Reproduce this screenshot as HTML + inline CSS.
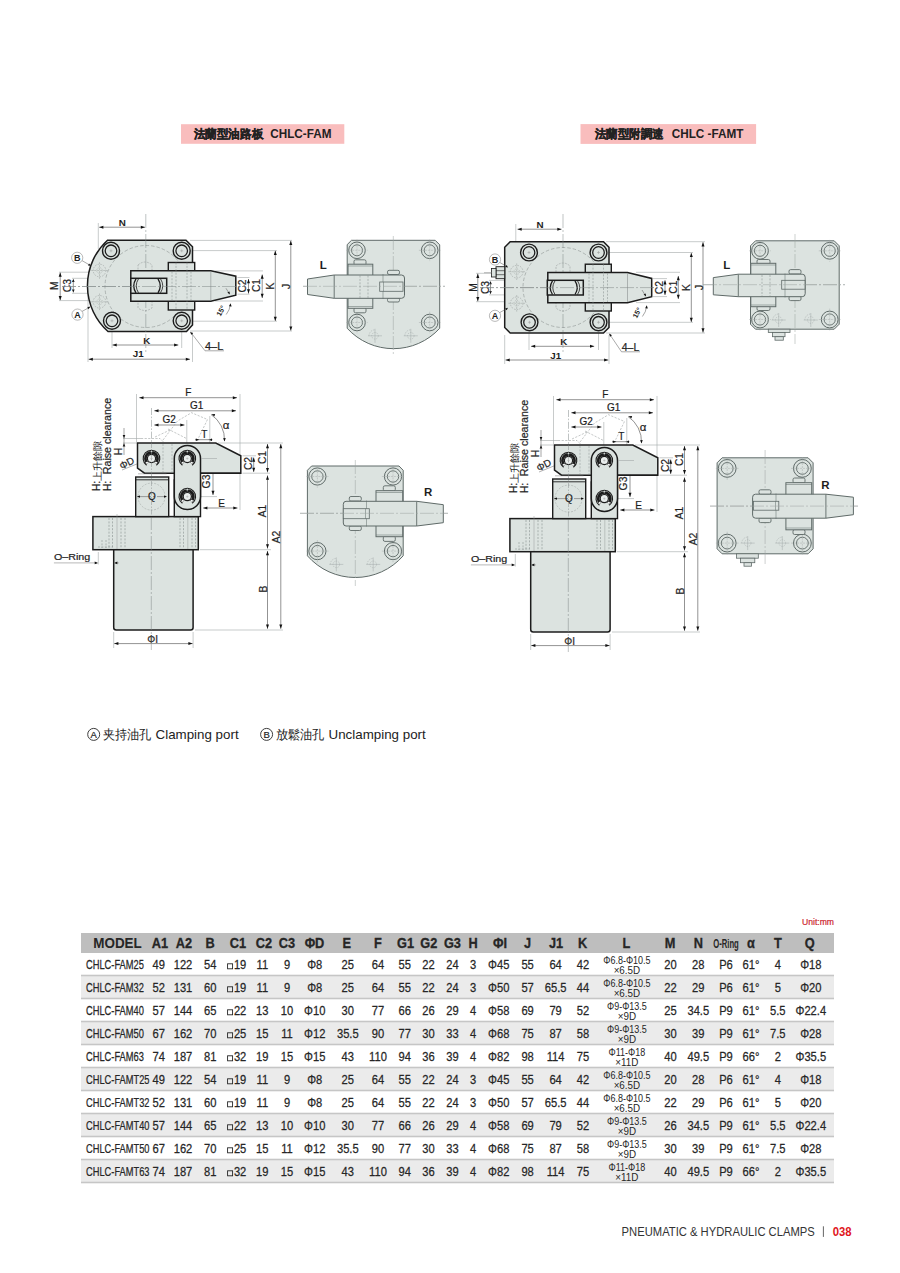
<!DOCTYPE html>
<html><head><meta charset="utf-8"><title>CHLC-FAM / CHLC-FAMT</title>
<style>
html,body{margin:0;padding:0;background:#fff;}
body{width:900px;height:1273px;overflow:hidden;position:relative;font-family:"Liberation Sans",sans-serif;}
svg{position:absolute;left:0;top:0;}
svg text{font-family:"Liberation Sans",sans-serif;}
</style></head><body>
<svg width="900" height="1273" viewBox="0 0 900 1273">
<line x1="98.30" y1="223.00" x2="98.30" y2="249.00" stroke="#a3a8a7" stroke-width="0.6"/><line x1="99.20" y1="227.20" x2="145.00" y2="227.20" stroke="#4a4a4a" stroke-width="0.6"/><polygon points="99.20,227.20 103.40,225.70 103.40,228.70" fill="#111"/><polygon points="145.00,227.20 140.80,228.70 140.80,225.70" fill="#111"/><text transform="translate(122.20,222.00)" x="0" y="3.51" text-anchor="middle" font-size="9.8" font-weight="bold" fill="#1e1e1e">N</text><line x1="190.00" y1="240.40" x2="292.00" y2="240.40" stroke="#a3a8a7" stroke-width="0.6"/><line x1="190.00" y1="250.60" x2="277.00" y2="250.60" stroke="#a3a8a7" stroke-width="0.6"/><line x1="215.00" y1="270.90" x2="263.00" y2="270.90" stroke="#a3a8a7" stroke-width="0.6"/><line x1="215.00" y1="301.00" x2="263.00" y2="301.00" stroke="#a3a8a7" stroke-width="0.6"/><line x1="237.50" y1="277.50" x2="249.50" y2="277.50" stroke="#a3a8a7" stroke-width="0.6"/><line x1="237.50" y1="294.20" x2="249.50" y2="294.20" stroke="#a3a8a7" stroke-width="0.6"/><line x1="190.00" y1="321.20" x2="277.00" y2="321.20" stroke="#a3a8a7" stroke-width="0.6"/><line x1="190.00" y1="331.00" x2="292.00" y2="331.00" stroke="#a3a8a7" stroke-width="0.6"/><line x1="290.80" y1="240.80" x2="290.80" y2="330.60" stroke="#4a4a4a" stroke-width="0.6"/><polygon points="290.80,240.80 292.30,245.00 289.30,245.00" fill="#111"/><polygon points="290.80,330.60 289.30,326.40 292.30,326.40" fill="#111"/><line x1="275.30" y1="250.80" x2="275.30" y2="321.00" stroke="#4a4a4a" stroke-width="0.6"/><polygon points="275.30,250.80 276.80,255.00 273.80,255.00" fill="#111"/><polygon points="275.30,321.00 273.80,316.80 276.80,316.80" fill="#111"/><line x1="262.20" y1="274.60" x2="262.20" y2="298.00" stroke="#4a4a4a" stroke-width="0.6"/><polygon points="262.20,274.60 263.70,278.80 260.70,278.80" fill="#111"/><polygon points="262.20,298.00 260.70,293.80 263.70,293.80" fill="#111"/><line x1="248.50" y1="279.10" x2="248.50" y2="293.50" stroke="#4a4a4a" stroke-width="0.6"/><polygon points="248.50,279.10 250.00,283.30 247.00,283.30" fill="#111"/><polygon points="248.50,293.50 247.00,289.30 250.00,289.30" fill="#111"/><text transform="translate(242.40,286.00) rotate(-90)" x="0" y="3.69" text-anchor="middle" font-size="10.3" stroke="#1e1e1e" stroke-width="0.2" fill="#1e1e1e">C2</text><text transform="translate(256.60,285.50) rotate(-90)" x="0" y="3.69" text-anchor="middle" font-size="10.3" stroke="#1e1e1e" stroke-width="0.2" fill="#1e1e1e">C1</text><text transform="translate(270.20,286.00) rotate(-90)" x="0" y="3.69" text-anchor="middle" font-size="10.3" stroke="#1e1e1e" stroke-width="0.2" fill="#1e1e1e">K</text><text transform="translate(286.50,286.50) rotate(-90)" x="0" y="3.69" text-anchor="middle" font-size="10.3" stroke="#1e1e1e" stroke-width="0.2" fill="#1e1e1e">J</text><line x1="59.00" y1="272.20" x2="100.00" y2="272.20" stroke="#a3a8a7" stroke-width="0.6"/><line x1="59.00" y1="300.60" x2="100.00" y2="300.60" stroke="#a3a8a7" stroke-width="0.6"/><line x1="72.00" y1="278.30" x2="100.00" y2="278.30" stroke="#a3a8a7" stroke-width="0.6"/><line x1="72.00" y1="293.30" x2="100.00" y2="293.30" stroke="#a3a8a7" stroke-width="0.6"/><line x1="60.20" y1="272.60" x2="60.20" y2="300.20" stroke="#4a4a4a" stroke-width="0.6"/><polygon points="60.20,272.60 61.70,276.80 58.70,276.80" fill="#111"/><polygon points="60.20,300.20 58.70,296.00 61.70,296.00" fill="#111"/><polygon points="73.30,278.80 74.60,282.00 72.00,282.00" fill="#111"/><polygon points="73.30,292.80 72.00,289.60 74.60,289.60" fill="#111"/><line x1="73.30" y1="281.00" x2="73.30" y2="290.50" stroke="#4a4a4a" stroke-width="0.6"/><text transform="translate(53.90,285.60) rotate(-90)" x="0" y="3.69" text-anchor="middle" font-size="10.3" stroke="#1e1e1e" stroke-width="0.2" fill="#1e1e1e">M</text><text transform="translate(67.20,285.60) rotate(-90)" x="0" y="3.69" text-anchor="middle" font-size="10.3" stroke="#1e1e1e" stroke-width="0.2" fill="#1e1e1e">C3</text><line x1="112.00" y1="322.00" x2="112.00" y2="348.00" stroke="#a3a8a7" stroke-width="0.6"/><line x1="181.70" y1="322.00" x2="181.70" y2="348.00" stroke="#a3a8a7" stroke-width="0.6"/><line x1="88.00" y1="290.00" x2="88.00" y2="362.00" stroke="#a3a8a7" stroke-width="0.6"/><line x1="192.50" y1="332.00" x2="192.50" y2="362.00" stroke="#a3a8a7" stroke-width="0.6"/><line x1="112.50" y1="345.00" x2="178.30" y2="345.00" stroke="#4a4a4a" stroke-width="0.6"/><polygon points="112.50,345.00 116.70,343.50 116.70,346.50" fill="#111"/><polygon points="178.30,345.00 174.10,346.50 174.10,343.50" fill="#111"/><text transform="translate(146.70,340.30)" x="0" y="3.51" text-anchor="middle" font-size="9.8" font-weight="bold" fill="#1e1e1e">K</text><line x1="88.60" y1="359.20" x2="190.00" y2="359.20" stroke="#4a4a4a" stroke-width="0.6"/><polygon points="88.60,359.20 92.80,357.70 92.80,360.70" fill="#111"/><polygon points="190.00,359.20 185.80,360.70 185.80,357.70" fill="#111"/><text transform="translate(138.30,353.80)" x="0" y="3.51" text-anchor="middle" font-size="9.8" font-weight="bold" fill="#1e1e1e">J1</text><path d="M107.5,240.2 L186,240.2 L192.5,246.7 L192.5,325 L186.5,331.5 L108,331.5 A61.5,61.5 0 0 1 107.5,240.2 Z" stroke="#1c1c1c" stroke-width="1.5" fill="#dce3e0"/><circle cx="146.00" cy="286.50" r="41.00" stroke="#8f9594" stroke-width="0.6" fill="none" stroke-dasharray="3.5 2"/><circle cx="99.50" cy="270.50" r="6.30" stroke="#9aa09f" stroke-width="0.6" fill="none" stroke-dasharray="1.5 1.2"/><line x1="91.20" y1="270.50" x2="107.80" y2="270.50" stroke="#9aa09f" stroke-width="0.5" stroke-dasharray="2 1"/><line x1="99.50" y1="262.20" x2="99.50" y2="278.80" stroke="#9aa09f" stroke-width="0.5" stroke-dasharray="2 1"/><circle cx="99.50" cy="270.50" r="2.83" stroke="#9aa09f" stroke-width="0.5" fill="none" stroke-dasharray="1.2 1"/><circle cx="99.50" cy="301.80" r="6.30" stroke="#9aa09f" stroke-width="0.6" fill="none" stroke-dasharray="1.5 1.2"/><line x1="91.20" y1="301.80" x2="107.80" y2="301.80" stroke="#9aa09f" stroke-width="0.5" stroke-dasharray="2 1"/><line x1="99.50" y1="293.50" x2="99.50" y2="310.10" stroke="#9aa09f" stroke-width="0.5" stroke-dasharray="2 1"/><circle cx="99.50" cy="301.80" r="2.83" stroke="#9aa09f" stroke-width="0.5" fill="none" stroke-dasharray="1.2 1"/><circle cx="111.00" cy="250.80" r="8.50" stroke="#1c1c1c" stroke-width="1.4" fill="#dce3e0"/><circle cx="111.00" cy="250.80" r="5.80" stroke="#1c1c1c" stroke-width="1.26" fill="#dce3e0"/><line x1="109.50" y1="250.80" x2="112.50" y2="250.80" stroke="#999" stroke-width="0.5"/><line x1="111.00" y1="249.30" x2="111.00" y2="252.30" stroke="#999" stroke-width="0.5"/><circle cx="181.70" cy="250.80" r="8.50" stroke="#1c1c1c" stroke-width="1.4" fill="#dce3e0"/><circle cx="181.70" cy="250.80" r="5.80" stroke="#1c1c1c" stroke-width="1.26" fill="#dce3e0"/><line x1="180.20" y1="250.80" x2="183.20" y2="250.80" stroke="#999" stroke-width="0.5"/><line x1="181.70" y1="249.30" x2="181.70" y2="252.30" stroke="#999" stroke-width="0.5"/><circle cx="112.00" cy="320.80" r="8.50" stroke="#1c1c1c" stroke-width="1.4" fill="#dce3e0"/><circle cx="112.00" cy="320.80" r="5.80" stroke="#1c1c1c" stroke-width="1.26" fill="#dce3e0"/><line x1="110.50" y1="320.80" x2="113.50" y2="320.80" stroke="#999" stroke-width="0.5"/><line x1="112.00" y1="319.30" x2="112.00" y2="322.30" stroke="#999" stroke-width="0.5"/><circle cx="181.70" cy="320.80" r="8.50" stroke="#1c1c1c" stroke-width="1.4" fill="#dce3e0"/><circle cx="181.70" cy="320.80" r="5.80" stroke="#1c1c1c" stroke-width="1.26" fill="#dce3e0"/><line x1="180.20" y1="320.80" x2="183.20" y2="320.80" stroke="#999" stroke-width="0.5"/><line x1="181.70" y1="319.30" x2="181.70" y2="322.30" stroke="#999" stroke-width="0.5"/><line x1="145.80" y1="214.00" x2="145.80" y2="352.00" stroke="#7f8786" stroke-width="0.5" stroke-dasharray="14 2 2 2"/><line x1="62.00" y1="286.50" x2="246.00" y2="286.50" stroke="#7f8786" stroke-width="0.5" stroke-dasharray="14 2 2 2"/><path d="M138,265 Q145,259 152,265 L152,308 Q145,313 138,308 Z" stroke="#9aa09f" stroke-width="0.6" fill="none" stroke-dasharray="2 1.2"/><rect x="168.30" y="262.50" width="26.40" height="47.50" stroke="#1c1c1c" stroke-width="1.4" fill="#dce3e0"/><path d="M130.8,270.7 L210.8,270.7 L235.8,276.2 L235.8,295.2 L210.8,301.2 L130.8,301.2 Z" stroke="#1c1c1c" stroke-width="1.5" fill="#dce3e0"/><line x1="210.80" y1="271.50" x2="210.80" y2="300.50" stroke="#8a8f8e" stroke-width="0.6"/><line x1="172.00" y1="271.50" x2="172.00" y2="300.50" stroke="#7f8786" stroke-width="0.5" stroke-dasharray="2 1.4"/><line x1="191.00" y1="271.50" x2="191.00" y2="300.50" stroke="#7f8786" stroke-width="0.5" stroke-dasharray="2 1.4"/><line x1="176.00" y1="262.50" x2="176.00" y2="310.00" stroke="#7f8786" stroke-width="0.5" stroke-dasharray="2 1.4"/><line x1="187.00" y1="262.50" x2="187.00" y2="310.00" stroke="#7f8786" stroke-width="0.5" stroke-dasharray="2 1.4"/><rect x="130.80" y="278.30" width="35.90" height="15.00" stroke="#1c1c1c" stroke-width="1.5" fill="#dce3e0"/><path d="M136,278.8 Q131.5,285.8 136,292.8" stroke="#1c1c1c" stroke-width="1.3" fill="none"/><path d="M138.5,278.8 Q134,285.8 138.5,292.8" stroke="#1c1c1c" stroke-width="0.8" fill="none"/><path d="M158,278.8 Q162.5,285.8 158,292.8" stroke="#1c1c1c" stroke-width="1.3" fill="none"/><path d="M160.5,278.8 Q165,285.8 160.5,292.8" stroke="#1c1c1c" stroke-width="0.8" fill="none"/><line x1="62.00" y1="286.50" x2="246.00" y2="286.50" stroke="#7f8786" stroke-width="0.5" stroke-dasharray="14 2 2 2"/><line x1="81.00" y1="260.00" x2="90.60" y2="265.60" stroke="#555" stroke-width="0.5"/><polygon points="90.80,265.80 87.94,265.60 89.10,263.50" fill="#111"/><line x1="81.00" y1="312.00" x2="90.00" y2="307.00" stroke="#555" stroke-width="0.5"/><polygon points="90.20,306.80 88.59,309.17 87.35,307.11" fill="#111"/><circle cx="77.20" cy="257.80" r="5.60" stroke="#8a8a8a" stroke-width="0.6" fill="#fff"/><text transform="translate(77.20,257.80)" x="0" y="3.22" text-anchor="middle" font-size="9" font-weight="bold" fill="#222">B</text><circle cx="77.50" cy="314.60" r="5.60" stroke="#8a8a8a" stroke-width="0.6" fill="#fff"/><text transform="translate(77.50,314.60)" x="0" y="3.22" text-anchor="middle" font-size="9" font-weight="bold" fill="#222">A</text><line x1="226.00" y1="288.30" x2="229.40" y2="293.80" stroke="#555" stroke-width="0.5"/><polygon points="229.80,294.50 227.40,292.62 229.50,291.47" fill="#111"/><path d="M230.4,304.5 Q229.8,310 226.2,314.5" stroke="#4a4a4a" stroke-width="0.5" fill="none"/><polygon points="230.50,303.20 231.64,306.46 229.04,306.33" fill="#111"/><text transform="translate(220.80,310.80) rotate(-62)" x="0" y="2.58" text-anchor="middle" font-size="7.2" font-weight="bold" fill="#1e1e1e">15°</text><line x1="190.50" y1="332.00" x2="205.00" y2="350.80" stroke="#555" stroke-width="0.5"/><line x1="205.00" y1="350.80" x2="224.00" y2="350.80" stroke="#555" stroke-width="0.5"/><polygon points="190.30,331.70 193.06,333.38 191.14,334.82" fill="#111"/><text transform="translate(205.00,349.80) scale(1.045,1)" text-anchor="start" font-size="10.5" fill="#1e1e1e" stroke="#1e1e1e" stroke-width="0.2">4–L</text><path d="M351.5,240.3 L435.2,240.3 L439.7,244.8 L439.7,328.3 A62.7,62.7 0 0 1 347.2,328.3 L347.2,244.6 Z" stroke="#5f6a68" stroke-width="1.0" fill="#dce3e0"/><circle cx="357.00" cy="250.30" r="8.30" stroke="#5f6a68" stroke-width="1.0" fill="#dce3e0"/><circle cx="357.00" cy="250.30" r="5.50" stroke="#5f6a68" stroke-width="0.9" fill="#dce3e0"/><line x1="346.20" y1="250.30" x2="367.80" y2="250.30" stroke="#a0a6a5" stroke-width="0.45" stroke-dasharray="2 1"/><line x1="357.00" y1="239.50" x2="357.00" y2="261.10" stroke="#a0a6a5" stroke-width="0.45" stroke-dasharray="2 1"/><circle cx="429.70" cy="250.30" r="8.30" stroke="#5f6a68" stroke-width="1.0" fill="#dce3e0"/><circle cx="429.70" cy="250.30" r="5.50" stroke="#5f6a68" stroke-width="0.9" fill="#dce3e0"/><line x1="418.90" y1="250.30" x2="440.50" y2="250.30" stroke="#a0a6a5" stroke-width="0.45" stroke-dasharray="2 1"/><line x1="429.70" y1="239.50" x2="429.70" y2="261.10" stroke="#a0a6a5" stroke-width="0.45" stroke-dasharray="2 1"/><circle cx="357.00" cy="322.50" r="8.30" stroke="#5f6a68" stroke-width="1.0" fill="#dce3e0"/><circle cx="357.00" cy="322.50" r="5.50" stroke="#5f6a68" stroke-width="0.9" fill="#dce3e0"/><line x1="346.20" y1="322.50" x2="367.80" y2="322.50" stroke="#a0a6a5" stroke-width="0.45" stroke-dasharray="2 1"/><line x1="357.00" y1="311.70" x2="357.00" y2="333.30" stroke="#a0a6a5" stroke-width="0.45" stroke-dasharray="2 1"/><circle cx="429.70" cy="322.50" r="8.30" stroke="#5f6a68" stroke-width="1.0" fill="#dce3e0"/><circle cx="429.70" cy="322.50" r="5.50" stroke="#5f6a68" stroke-width="0.9" fill="#dce3e0"/><line x1="418.90" y1="322.50" x2="440.50" y2="322.50" stroke="#a0a6a5" stroke-width="0.45" stroke-dasharray="2 1"/><line x1="429.70" y1="311.70" x2="429.70" y2="333.30" stroke="#a0a6a5" stroke-width="0.45" stroke-dasharray="2 1"/><circle cx="375.00" cy="335.80" r="3.30" stroke="#a3a9a8" stroke-width="0.5" fill="none" stroke-dasharray="1.4 1"/><path d="M369,335.8 A6,6 0 0 1 375,329.8" stroke="#a3a9a8" stroke-width="0.5" fill="none" stroke-dasharray="1.4 1"/><line x1="368.00" y1="335.80" x2="382.00" y2="335.80" stroke="#a3a9a8" stroke-width="0.5"/><line x1="375.00" y1="328.80" x2="375.00" y2="342.80" stroke="#a3a9a8" stroke-width="0.5"/><circle cx="410.80" cy="335.80" r="3.30" stroke="#a3a9a8" stroke-width="0.5" fill="none" stroke-dasharray="1.4 1"/><path d="M404.8,335.8 A6,6 0 0 1 410.8,329.8" stroke="#a3a9a8" stroke-width="0.5" fill="none" stroke-dasharray="1.4 1"/><line x1="403.80" y1="335.80" x2="417.80" y2="335.80" stroke="#a3a9a8" stroke-width="0.5"/><line x1="410.80" y1="328.80" x2="410.80" y2="342.80" stroke="#a3a9a8" stroke-width="0.5"/><line x1="393.30" y1="236.00" x2="393.30" y2="355.00" stroke="#9aa09f" stroke-width="0.5" stroke-dasharray="14 2 2 2"/><line x1="303.00" y1="286.30" x2="445.00" y2="286.30" stroke="#9aa09f" stroke-width="0.5" stroke-dasharray="14 2 2 2"/><rect x="354.00" y="259.80" width="12.00" height="5.20" stroke="#5f6a68" stroke-width="0.9" fill="#dce3e0" rx="1.6"/><rect x="354.00" y="307.50" width="12.00" height="5.30" stroke="#5f6a68" stroke-width="0.9" fill="#dce3e0" rx="1.6"/><rect x="348.00" y="264.20" width="24.80" height="44.10" stroke="#5f6a68" stroke-width="1.0" fill="#dce3e0"/><line x1="348.00" y1="266.00" x2="372.80" y2="266.00" stroke="#5f6a68" stroke-width="0.5"/><line x1="348.00" y1="306.50" x2="372.80" y2="306.50" stroke="#5f6a68" stroke-width="0.5"/><rect x="387.50" y="270.30" width="12.00" height="4.20" stroke="#5f6a68" stroke-width="0.9" fill="#dce3e0" rx="1.6"/><rect x="387.50" y="297.80" width="12.00" height="4.20" stroke="#5f6a68" stroke-width="0.9" fill="#dce3e0" rx="1.6"/><path d="M307.5,279 L334.2,275 L401.5,275 Q404.5,275 404.5,278 L404.5,295.3 Q404.5,298.3 401.5,298.3 L334.2,298.3 L307.5,294.5 Z" stroke="#5f6a68" stroke-width="1.0" fill="#dce3e0"/><line x1="334.20" y1="275.00" x2="334.20" y2="298.30" stroke="#5f6a68" stroke-width="0.9"/><line x1="383.00" y1="274.00" x2="383.00" y2="299.00" stroke="#5f6a68" stroke-width="0.5"/><line x1="360.00" y1="275.50" x2="360.00" y2="298.00" stroke="#7f8786" stroke-width="0.5" stroke-dasharray="2 1.4"/><line x1="368.00" y1="275.50" x2="368.00" y2="298.00" stroke="#7f8786" stroke-width="0.5" stroke-dasharray="2 1.4"/><rect x="379.70" y="282.00" width="23.30" height="9.30" stroke="#5f6a68" stroke-width="0.8" fill="#dce3e0"/><line x1="383.50" y1="282.00" x2="383.50" y2="291.30" stroke="#5f6a68" stroke-width="0.5"/><line x1="303.00" y1="286.30" x2="445.00" y2="286.30" stroke="#9aa09f" stroke-width="0.5" stroke-dasharray="14 2 2 2"/><text transform="translate(323.30,265.00)" x="0" y="4.12" text-anchor="middle" font-size="11.5" font-weight="bold" fill="#1e1e1e">L</text><line x1="515.80" y1="224.00" x2="515.80" y2="250.00" stroke="#a3a8a7" stroke-width="0.6"/><line x1="517.50" y1="229.20" x2="561.50" y2="229.20" stroke="#4a4a4a" stroke-width="0.6"/><polygon points="517.50,229.20 521.70,227.70 521.70,230.70" fill="#111"/><polygon points="561.50,229.20 557.30,230.70 557.30,227.70" fill="#111"/><text transform="translate(540.00,224.60)" x="0" y="3.51" text-anchor="middle" font-size="9.8" font-weight="bold" fill="#1e1e1e">N</text><line x1="606.00" y1="241.70" x2="705.00" y2="241.70" stroke="#a3a8a7" stroke-width="0.6"/><line x1="606.00" y1="252.50" x2="693.00" y2="252.50" stroke="#a3a8a7" stroke-width="0.6"/><line x1="636.00" y1="272.30" x2="680.00" y2="272.30" stroke="#a3a8a7" stroke-width="0.6"/><line x1="636.00" y1="302.60" x2="680.00" y2="302.60" stroke="#a3a8a7" stroke-width="0.6"/><line x1="653.00" y1="278.60" x2="667.00" y2="278.60" stroke="#a3a8a7" stroke-width="0.6"/><line x1="653.00" y1="296.60" x2="667.00" y2="296.60" stroke="#a3a8a7" stroke-width="0.6"/><line x1="606.00" y1="322.30" x2="693.00" y2="322.30" stroke="#a3a8a7" stroke-width="0.6"/><line x1="606.00" y1="333.00" x2="705.00" y2="333.00" stroke="#a3a8a7" stroke-width="0.6"/><line x1="703.00" y1="242.20" x2="703.00" y2="332.50" stroke="#4a4a4a" stroke-width="0.6"/><polygon points="703.00,242.20 704.50,246.40 701.50,246.40" fill="#111"/><polygon points="703.00,332.50 701.50,328.30 704.50,328.30" fill="#111"/><line x1="691.30" y1="252.90" x2="691.30" y2="322.00" stroke="#4a4a4a" stroke-width="0.6"/><polygon points="691.30,252.90 692.80,257.10 689.80,257.10" fill="#111"/><polygon points="691.30,322.00 689.80,317.80 692.80,317.80" fill="#111"/><line x1="678.30" y1="276.00" x2="678.30" y2="299.00" stroke="#4a4a4a" stroke-width="0.6"/><polygon points="678.30,276.00 679.80,280.20 676.80,280.20" fill="#111"/><polygon points="678.30,299.00 676.80,294.80 679.80,294.80" fill="#111"/><line x1="665.00" y1="280.30" x2="665.00" y2="295.00" stroke="#4a4a4a" stroke-width="0.6"/><polygon points="665.00,280.30 666.50,284.50 663.50,284.50" fill="#111"/><polygon points="665.00,295.00 663.50,290.80 666.50,290.80" fill="#111"/><text transform="translate(659.00,287.60) rotate(-90)" x="0" y="3.69" text-anchor="middle" font-size="10.3" stroke="#1e1e1e" stroke-width="0.2" fill="#1e1e1e">C2</text><text transform="translate(673.30,287.20) rotate(-90)" x="0" y="3.69" text-anchor="middle" font-size="10.3" stroke="#1e1e1e" stroke-width="0.2" fill="#1e1e1e">C1</text><text transform="translate(686.70,287.50) rotate(-90)" x="0" y="3.69" text-anchor="middle" font-size="10.3" stroke="#1e1e1e" stroke-width="0.2" fill="#1e1e1e">K</text><text transform="translate(699.00,287.50) rotate(-90)" x="0" y="3.69" text-anchor="middle" font-size="10.3" stroke="#1e1e1e" stroke-width="0.2" fill="#1e1e1e">J</text><line x1="476.00" y1="273.30" x2="505.00" y2="273.30" stroke="#a3a8a7" stroke-width="0.6"/><line x1="476.00" y1="301.70" x2="505.00" y2="301.70" stroke="#a3a8a7" stroke-width="0.6"/><line x1="489.00" y1="280.40" x2="505.00" y2="280.40" stroke="#a3a8a7" stroke-width="0.6"/><line x1="489.00" y1="294.90" x2="505.00" y2="294.90" stroke="#a3a8a7" stroke-width="0.6"/><line x1="477.80" y1="273.70" x2="477.80" y2="301.30" stroke="#4a4a4a" stroke-width="0.6"/><polygon points="477.80,273.70 479.30,277.90 476.30,277.90" fill="#111"/><polygon points="477.80,301.30 476.30,297.10 479.30,297.10" fill="#111"/><polygon points="490.50,281.00 491.80,284.20 489.20,284.20" fill="#111"/><polygon points="490.50,294.30 489.20,291.10 491.80,291.10" fill="#111"/><line x1="490.50" y1="283.00" x2="490.50" y2="292.30" stroke="#4a4a4a" stroke-width="0.6"/><text transform="translate(473.30,287.50) rotate(-90)" x="0" y="3.69" text-anchor="middle" font-size="10.3" stroke="#1e1e1e" stroke-width="0.2" fill="#1e1e1e">M</text><text transform="translate(485.40,287.50) rotate(-90)" x="0" y="3.69" text-anchor="middle" font-size="10.3" stroke="#1e1e1e" stroke-width="0.2" fill="#1e1e1e">C3</text><line x1="529.00" y1="324.00" x2="529.00" y2="350.00" stroke="#a3a8a7" stroke-width="0.6"/><line x1="598.50" y1="324.00" x2="598.50" y2="350.00" stroke="#a3a8a7" stroke-width="0.6"/><line x1="504.70" y1="335.00" x2="504.70" y2="364.00" stroke="#a3a8a7" stroke-width="0.6"/><line x1="609.00" y1="335.00" x2="609.00" y2="364.00" stroke="#a3a8a7" stroke-width="0.6"/><line x1="531.00" y1="346.30" x2="594.20" y2="346.30" stroke="#4a4a4a" stroke-width="0.6"/><polygon points="531.00,346.30 535.20,344.80 535.20,347.80" fill="#111"/><polygon points="594.20,346.30 590.00,347.80 590.00,344.80" fill="#111"/><text transform="translate(563.70,341.60)" x="0" y="3.51" text-anchor="middle" font-size="9.8" font-weight="bold" fill="#1e1e1e">K</text><line x1="505.50" y1="360.00" x2="608.30" y2="360.00" stroke="#4a4a4a" stroke-width="0.6"/><polygon points="505.50,360.00 509.70,358.50 509.70,361.50" fill="#111"/><polygon points="608.30,360.00 604.10,361.50 604.10,358.50" fill="#111"/><text transform="translate(555.80,355.00)" x="0" y="3.51" text-anchor="middle" font-size="9.8" font-weight="bold" fill="#1e1e1e">J1</text><path d="M510.2,241.7 L603.5,241.7 L609,247.2 L609,327.5 L603.5,333 L510.2,333 L504.7,327.5 L504.7,247.2 Z" stroke="#1c1c1c" stroke-width="1.5" fill="#dce3e0"/><circle cx="563.00" cy="287.50" r="40.00" stroke="#8f9594" stroke-width="0.6" fill="none" stroke-dasharray="3.5 2"/><circle cx="516.70" cy="271.70" r="6.30" stroke="#9aa09f" stroke-width="0.6" fill="none" stroke-dasharray="1.5 1.2"/><line x1="508.40" y1="271.70" x2="525.00" y2="271.70" stroke="#9aa09f" stroke-width="0.5" stroke-dasharray="2 1"/><line x1="516.70" y1="263.40" x2="516.70" y2="280.00" stroke="#9aa09f" stroke-width="0.5" stroke-dasharray="2 1"/><circle cx="516.70" cy="271.70" r="2.83" stroke="#9aa09f" stroke-width="0.5" fill="none" stroke-dasharray="1.2 1"/><circle cx="516.70" cy="303.30" r="6.30" stroke="#9aa09f" stroke-width="0.6" fill="none" stroke-dasharray="1.5 1.2"/><line x1="508.40" y1="303.30" x2="525.00" y2="303.30" stroke="#9aa09f" stroke-width="0.5" stroke-dasharray="2 1"/><line x1="516.70" y1="295.00" x2="516.70" y2="311.60" stroke="#9aa09f" stroke-width="0.5" stroke-dasharray="2 1"/><circle cx="516.70" cy="303.30" r="2.83" stroke="#9aa09f" stroke-width="0.5" fill="none" stroke-dasharray="1.2 1"/><circle cx="529.00" cy="252.50" r="8.40" stroke="#1c1c1c" stroke-width="1.4" fill="#dce3e0"/><circle cx="529.00" cy="252.50" r="5.80" stroke="#1c1c1c" stroke-width="1.26" fill="#dce3e0"/><line x1="527.50" y1="252.50" x2="530.50" y2="252.50" stroke="#999" stroke-width="0.5"/><line x1="529.00" y1="251.00" x2="529.00" y2="254.00" stroke="#999" stroke-width="0.5"/><circle cx="598.50" cy="252.50" r="8.40" stroke="#1c1c1c" stroke-width="1.4" fill="#dce3e0"/><circle cx="598.50" cy="252.50" r="5.80" stroke="#1c1c1c" stroke-width="1.26" fill="#dce3e0"/><line x1="597.00" y1="252.50" x2="600.00" y2="252.50" stroke="#999" stroke-width="0.5"/><line x1="598.50" y1="251.00" x2="598.50" y2="254.00" stroke="#999" stroke-width="0.5"/><circle cx="529.50" cy="322.30" r="8.40" stroke="#1c1c1c" stroke-width="1.4" fill="#dce3e0"/><circle cx="529.50" cy="322.30" r="5.80" stroke="#1c1c1c" stroke-width="1.26" fill="#dce3e0"/><line x1="528.00" y1="322.30" x2="531.00" y2="322.30" stroke="#999" stroke-width="0.5"/><line x1="529.50" y1="320.80" x2="529.50" y2="323.80" stroke="#999" stroke-width="0.5"/><circle cx="598.50" cy="322.30" r="8.40" stroke="#1c1c1c" stroke-width="1.4" fill="#dce3e0"/><circle cx="598.50" cy="322.30" r="5.80" stroke="#1c1c1c" stroke-width="1.26" fill="#dce3e0"/><line x1="597.00" y1="322.30" x2="600.00" y2="322.30" stroke="#999" stroke-width="0.5"/><line x1="598.50" y1="320.80" x2="598.50" y2="323.80" stroke="#999" stroke-width="0.5"/><line x1="563.00" y1="214.00" x2="563.00" y2="352.00" stroke="#7f8786" stroke-width="0.5" stroke-dasharray="14 2 2 2"/><line x1="480.00" y1="287.60" x2="660.00" y2="287.60" stroke="#7f8786" stroke-width="0.5" stroke-dasharray="14 2 2 2"/><path d="M556,266 Q563,260 570,266 L570,308 Q563,314 556,308 Z" stroke="#9aa09f" stroke-width="0.6" fill="none" stroke-dasharray="2 1.2"/><rect x="585.30" y="264.20" width="26.00" height="46.80" stroke="#1c1c1c" stroke-width="1.4" fill="#dce3e0"/><path d="M547.8,272.5 L627.5,272.5 L651.7,278.4 L651.7,296.7 L627.5,302.7 L547.8,302.7 Z" stroke="#1c1c1c" stroke-width="1.5" fill="#dce3e0"/><line x1="627.50" y1="273.30" x2="627.50" y2="302.00" stroke="#8a8f8e" stroke-width="0.6"/><line x1="589.00" y1="273.30" x2="589.00" y2="302.00" stroke="#7f8786" stroke-width="0.5" stroke-dasharray="2 1.4"/><line x1="607.50" y1="273.30" x2="607.50" y2="302.00" stroke="#7f8786" stroke-width="0.5" stroke-dasharray="2 1.4"/><line x1="593.00" y1="264.20" x2="593.00" y2="311.00" stroke="#7f8786" stroke-width="0.5" stroke-dasharray="2 1.4"/><line x1="603.50" y1="264.20" x2="603.50" y2="311.00" stroke="#7f8786" stroke-width="0.5" stroke-dasharray="2 1.4"/><rect x="547.30" y="280.30" width="36.00" height="14.70" stroke="#1c1c1c" stroke-width="1.5" fill="#dce3e0"/><path d="M552.5,280.8 Q548,287.6 552.5,294.5" stroke="#1c1c1c" stroke-width="1.3" fill="none"/><path d="M555,280.8 Q550.5,287.6 555,294.5" stroke="#1c1c1c" stroke-width="0.8" fill="none"/><path d="M575,280.8 Q579.5,287.6 575,294.5" stroke="#1c1c1c" stroke-width="1.3" fill="none"/><path d="M577.5,280.8 Q582,287.6 577.5,294.5" stroke="#1c1c1c" stroke-width="0.8" fill="none"/><line x1="480.00" y1="287.60" x2="660.00" y2="287.60" stroke="#7f8786" stroke-width="0.5" stroke-dasharray="14 2 2 2"/><rect x="496.00" y="266.70" width="8.70" height="12.00" stroke="#1c1c1c" stroke-width="0.9" fill="#dce3e0"/><line x1="496.00" y1="270.70" x2="504.70" y2="270.70" stroke="#1c1c1c" stroke-width="0.6"/><line x1="496.00" y1="274.70" x2="504.70" y2="274.70" stroke="#1c1c1c" stroke-width="0.6"/><rect x="491.50" y="268.50" width="4.50" height="8.50" stroke="#1c1c1c" stroke-width="0.8" fill="#dce3e0"/><line x1="484.00" y1="272.70" x2="492.00" y2="272.70" stroke="#777" stroke-width="0.5"/><line x1="499.00" y1="262.00" x2="506.00" y2="266.00" stroke="#555" stroke-width="0.5"/><polygon points="508.00,267.50 505.20,266.90 506.64,264.98" fill="#111"/><line x1="499.00" y1="313.00" x2="506.00" y2="309.00" stroke="#555" stroke-width="0.5"/><polygon points="508.00,307.80 506.64,310.32 505.20,308.40" fill="#111"/><circle cx="495.00" cy="259.50" r="5.60" stroke="#8a8a8a" stroke-width="0.6" fill="#fff"/><text transform="translate(495.00,259.50)" x="0" y="3.22" text-anchor="middle" font-size="9" font-weight="bold" fill="#222">B</text><circle cx="495.00" cy="315.80" r="5.60" stroke="#8a8a8a" stroke-width="0.6" fill="#fff"/><text transform="translate(495.00,315.80)" x="0" y="3.22" text-anchor="middle" font-size="9" font-weight="bold" fill="#222">A</text><line x1="642.00" y1="290.00" x2="645.60" y2="295.80" stroke="#555" stroke-width="0.5"/><polygon points="646.00,296.50 643.60,294.62 645.70,293.47" fill="#111"/><path d="M646.6,306.5 Q646,312 642.4,316.5" stroke="#4a4a4a" stroke-width="0.5" fill="none"/><polygon points="646.70,305.20 647.84,308.46 645.24,308.33" fill="#111"/><text transform="translate(637.00,312.80) rotate(-62)" x="0" y="2.58" text-anchor="middle" font-size="7.2" font-weight="bold" fill="#1e1e1e">15°</text><line x1="609.50" y1="334.00" x2="621.50" y2="351.80" stroke="#555" stroke-width="0.5"/><line x1="621.50" y1="351.80" x2="640.00" y2="351.80" stroke="#555" stroke-width="0.5"/><polygon points="609.20,333.60 611.96,335.28 610.04,336.72" fill="#111"/><text transform="translate(621.70,350.80)" text-anchor="start" font-size="10.5" fill="#1e1e1e" stroke="#1e1e1e" stroke-width="0.2">4–L</text><path d="M311.6,466 L399,466 L403.2,470.3 L403.2,555.8 A63.7,63.7 0 0 1 307.4,555.8 L307.4,470.3 Z" stroke="#5f6a68" stroke-width="1.0" fill="#dce3e0"/><circle cx="317.40" cy="476.50" r="8.60" stroke="#5f6a68" stroke-width="1.0" fill="#dce3e0"/><circle cx="317.40" cy="476.50" r="5.70" stroke="#5f6a68" stroke-width="0.9" fill="#dce3e0"/><line x1="306.30" y1="476.50" x2="328.50" y2="476.50" stroke="#a0a6a5" stroke-width="0.45" stroke-dasharray="2 1"/><line x1="317.40" y1="465.40" x2="317.40" y2="487.60" stroke="#a0a6a5" stroke-width="0.45" stroke-dasharray="2 1"/><circle cx="393.00" cy="476.50" r="8.60" stroke="#5f6a68" stroke-width="1.0" fill="#dce3e0"/><circle cx="393.00" cy="476.50" r="5.70" stroke="#5f6a68" stroke-width="0.9" fill="#dce3e0"/><line x1="381.90" y1="476.50" x2="404.10" y2="476.50" stroke="#a0a6a5" stroke-width="0.45" stroke-dasharray="2 1"/><line x1="393.00" y1="465.40" x2="393.00" y2="487.60" stroke="#a0a6a5" stroke-width="0.45" stroke-dasharray="2 1"/><circle cx="317.40" cy="551.10" r="8.60" stroke="#5f6a68" stroke-width="1.0" fill="#dce3e0"/><circle cx="317.40" cy="551.10" r="5.70" stroke="#5f6a68" stroke-width="0.9" fill="#dce3e0"/><line x1="306.30" y1="551.10" x2="328.50" y2="551.10" stroke="#a0a6a5" stroke-width="0.45" stroke-dasharray="2 1"/><line x1="317.40" y1="540.00" x2="317.40" y2="562.20" stroke="#a0a6a5" stroke-width="0.45" stroke-dasharray="2 1"/><circle cx="393.00" cy="551.10" r="8.60" stroke="#5f6a68" stroke-width="1.0" fill="#dce3e0"/><circle cx="393.00" cy="551.10" r="5.70" stroke="#5f6a68" stroke-width="0.9" fill="#dce3e0"/><line x1="381.90" y1="551.10" x2="404.10" y2="551.10" stroke="#a0a6a5" stroke-width="0.45" stroke-dasharray="2 1"/><line x1="393.00" y1="540.00" x2="393.00" y2="562.20" stroke="#a0a6a5" stroke-width="0.45" stroke-dasharray="2 1"/><circle cx="336.30" cy="564.40" r="3.30" stroke="#a3a9a8" stroke-width="0.5" fill="none" stroke-dasharray="1.4 1"/><path d="M330.3,564.4 A6,6 0 0 1 336.3,558.4" stroke="#a3a9a8" stroke-width="0.5" fill="none" stroke-dasharray="1.4 1"/><line x1="329.30" y1="564.40" x2="343.30" y2="564.40" stroke="#a3a9a8" stroke-width="0.5"/><line x1="336.30" y1="557.40" x2="336.30" y2="571.40" stroke="#a3a9a8" stroke-width="0.5"/><circle cx="373.20" cy="564.40" r="3.30" stroke="#a3a9a8" stroke-width="0.5" fill="none" stroke-dasharray="1.4 1"/><path d="M367.2,564.4 A6,6 0 0 1 373.2,558.4" stroke="#a3a9a8" stroke-width="0.5" fill="none" stroke-dasharray="1.4 1"/><line x1="366.20" y1="564.40" x2="380.20" y2="564.40" stroke="#a3a9a8" stroke-width="0.5"/><line x1="373.20" y1="557.40" x2="373.20" y2="571.40" stroke="#a3a9a8" stroke-width="0.5"/><line x1="355.30" y1="460.00" x2="355.30" y2="586.00" stroke="#9aa09f" stroke-width="0.5" stroke-dasharray="14 2 2 2"/><line x1="300.00" y1="513.30" x2="448.00" y2="513.30" stroke="#9aa09f" stroke-width="0.5" stroke-dasharray="14 2 2 2"/><rect x="383.30" y="485.80" width="12.00" height="5.20" stroke="#5f6a68" stroke-width="0.9" fill="#dce3e0" rx="1.6"/><rect x="383.30" y="536.20" width="12.00" height="5.20" stroke="#5f6a68" stroke-width="0.9" fill="#dce3e0" rx="1.6"/><rect x="376.00" y="490.70" width="26.70" height="46.00" stroke="#5f6a68" stroke-width="1.0" fill="#dce3e0"/><line x1="376.00" y1="492.50" x2="402.70" y2="492.50" stroke="#5f6a68" stroke-width="0.5"/><line x1="376.00" y1="535.00" x2="402.70" y2="535.00" stroke="#5f6a68" stroke-width="0.5"/><rect x="349.30" y="496.50" width="12.00" height="4.50" stroke="#5f6a68" stroke-width="0.9" fill="#dce3e0" rx="1.6"/><rect x="349.30" y="526.00" width="12.00" height="4.50" stroke="#5f6a68" stroke-width="0.9" fill="#dce3e0" rx="1.6"/><path d="M346,501.3 L416.7,501.3 L443.3,504.7 L443.3,522.7 L416.7,526 L346,526 Q343.3,526 343.3,523 L343.3,504.3 Q343.3,501.3 346,501.3 Z" stroke="#5f6a68" stroke-width="1.0" fill="#dce3e0"/><line x1="416.70" y1="501.30" x2="416.70" y2="526.00" stroke="#5f6a68" stroke-width="0.9"/><line x1="366.50" y1="500.50" x2="366.50" y2="526.50" stroke="#5f6a68" stroke-width="0.5"/><rect x="343.30" y="508.70" width="26.00" height="10.00" stroke="#5f6a68" stroke-width="0.8" fill="#dce3e0"/><line x1="365.50" y1="508.70" x2="365.50" y2="518.70" stroke="#5f6a68" stroke-width="0.5"/><line x1="300.00" y1="513.30" x2="448.00" y2="513.30" stroke="#9aa09f" stroke-width="0.5" stroke-dasharray="14 2 2 2"/><text transform="translate(428.20,491.50)" x="0" y="4.12" text-anchor="middle" font-size="11.5" font-weight="bold" fill="#1e1e1e">R</text><path d="M755.5,240.8 L834.2,240.8 L839.2,245.8 L839.2,324.2 L834.2,329.2 L755.5,329.2 L750.5,324.2 L750.5,245.8 Z" stroke="#5f6a68" stroke-width="1.0" fill="#dce3e0"/><circle cx="760.00" cy="250.80" r="8.40" stroke="#5f6a68" stroke-width="1.0" fill="#dce3e0"/><circle cx="760.00" cy="250.80" r="5.60" stroke="#5f6a68" stroke-width="0.9" fill="#dce3e0"/><line x1="749.10" y1="250.80" x2="770.90" y2="250.80" stroke="#a0a6a5" stroke-width="0.45" stroke-dasharray="2 1"/><line x1="760.00" y1="239.90" x2="760.00" y2="261.70" stroke="#a0a6a5" stroke-width="0.45" stroke-dasharray="2 1"/><circle cx="829.70" cy="250.80" r="8.40" stroke="#5f6a68" stroke-width="1.0" fill="#dce3e0"/><circle cx="829.70" cy="250.80" r="5.60" stroke="#5f6a68" stroke-width="0.9" fill="#dce3e0"/><line x1="818.80" y1="250.80" x2="840.60" y2="250.80" stroke="#a0a6a5" stroke-width="0.45" stroke-dasharray="2 1"/><line x1="829.70" y1="239.90" x2="829.70" y2="261.70" stroke="#a0a6a5" stroke-width="0.45" stroke-dasharray="2 1"/><circle cx="760.00" cy="319.50" r="8.40" stroke="#5f6a68" stroke-width="1.0" fill="#dce3e0"/><circle cx="760.00" cy="319.50" r="5.60" stroke="#5f6a68" stroke-width="0.9" fill="#dce3e0"/><line x1="749.10" y1="319.50" x2="770.90" y2="319.50" stroke="#a0a6a5" stroke-width="0.45" stroke-dasharray="2 1"/><line x1="760.00" y1="308.60" x2="760.00" y2="330.40" stroke="#a0a6a5" stroke-width="0.45" stroke-dasharray="2 1"/><circle cx="829.70" cy="319.50" r="8.40" stroke="#5f6a68" stroke-width="1.0" fill="#dce3e0"/><circle cx="829.70" cy="319.50" r="5.60" stroke="#5f6a68" stroke-width="0.9" fill="#dce3e0"/><line x1="818.80" y1="319.50" x2="840.60" y2="319.50" stroke="#a0a6a5" stroke-width="0.45" stroke-dasharray="2 1"/><line x1="829.70" y1="308.60" x2="829.70" y2="330.40" stroke="#a0a6a5" stroke-width="0.45" stroke-dasharray="2 1"/><circle cx="778.70" cy="320.00" r="3.30" stroke="#a3a9a8" stroke-width="0.5" fill="none" stroke-dasharray="1.4 1"/><path d="M772.7,320 A6,6 0 0 1 778.7,314" stroke="#a3a9a8" stroke-width="0.5" fill="none" stroke-dasharray="1.4 1"/><line x1="771.70" y1="320.00" x2="785.70" y2="320.00" stroke="#a3a9a8" stroke-width="0.5"/><line x1="778.70" y1="313.00" x2="778.70" y2="327.00" stroke="#a3a9a8" stroke-width="0.5"/><circle cx="810.80" cy="320.00" r="3.30" stroke="#a3a9a8" stroke-width="0.5" fill="none" stroke-dasharray="1.4 1"/><path d="M804.8,320 A6,6 0 0 1 810.8,314" stroke="#a3a9a8" stroke-width="0.5" fill="none" stroke-dasharray="1.4 1"/><line x1="803.80" y1="320.00" x2="817.80" y2="320.00" stroke="#a3a9a8" stroke-width="0.5"/><line x1="810.80" y1="313.00" x2="810.80" y2="327.00" stroke="#a3a9a8" stroke-width="0.5"/><rect x="768.30" y="329.20" width="21.70" height="3.30" stroke="#5f6a68" stroke-width="0.8" fill="#dce3e0"/><rect x="772.50" y="332.50" width="12.50" height="4.20" stroke="#5f6a68" stroke-width="0.8" fill="#dce3e0"/><rect x="775.00" y="336.70" width="8.30" height="3.50" stroke="#5f6a68" stroke-width="0.8" fill="#dce3e0"/><line x1="795.00" y1="234.00" x2="795.00" y2="344.00" stroke="#9aa09f" stroke-width="0.5" stroke-dasharray="14 2 2 2"/><line x1="703.00" y1="284.70" x2="845.00" y2="284.70" stroke="#9aa09f" stroke-width="0.5" stroke-dasharray="14 2 2 2"/><rect x="757.00" y="259.50" width="13.00" height="4.50" stroke="#5f6a68" stroke-width="0.9" fill="#dce3e0" rx="1.6"/><rect x="757.00" y="306.00" width="13.00" height="4.50" stroke="#5f6a68" stroke-width="0.9" fill="#dce3e0" rx="1.6"/><rect x="750.80" y="263.30" width="25.00" height="43.40" stroke="#5f6a68" stroke-width="1.0" fill="#dce3e0"/><line x1="750.80" y1="265.00" x2="775.80" y2="265.00" stroke="#5f6a68" stroke-width="0.5"/><line x1="750.80" y1="305.00" x2="775.80" y2="305.00" stroke="#5f6a68" stroke-width="0.5"/><rect x="789.00" y="269.60" width="12.00" height="4.40" stroke="#5f6a68" stroke-width="0.9" fill="#dce3e0" rx="1.6"/><rect x="789.00" y="296.20" width="12.00" height="4.40" stroke="#5f6a68" stroke-width="0.9" fill="#dce3e0" rx="1.6"/><path d="M713.3,277.6 L738.3,274.2 L802.2,274.2 Q805.2,274.2 805.2,277.2 L805.2,293.7 Q805.2,296.7 802.2,296.7 L738.3,296.7 L713.3,294.8 Z" stroke="#5f6a68" stroke-width="1.0" fill="#dce3e0"/><line x1="738.30" y1="274.20" x2="738.30" y2="296.70" stroke="#5f6a68" stroke-width="0.9"/><line x1="785.00" y1="273.50" x2="785.00" y2="297.50" stroke="#5f6a68" stroke-width="0.5"/><line x1="762.00" y1="275.00" x2="762.00" y2="296.00" stroke="#7f8786" stroke-width="0.5" stroke-dasharray="2 1.4"/><line x1="770.00" y1="275.00" x2="770.00" y2="296.00" stroke="#7f8786" stroke-width="0.5" stroke-dasharray="2 1.4"/><rect x="781.70" y="280.30" width="23.30" height="8.90" stroke="#5f6a68" stroke-width="0.8" fill="#dce3e0"/><line x1="785.00" y1="280.30" x2="785.00" y2="289.20" stroke="#5f6a68" stroke-width="0.5"/><line x1="703.00" y1="284.70" x2="845.00" y2="284.70" stroke="#9aa09f" stroke-width="0.5" stroke-dasharray="14 2 2 2"/><text transform="translate(726.70,264.50)" x="0" y="4.12" text-anchor="middle" font-size="11.5" font-weight="bold" fill="#1e1e1e">L</text><path d="M722.1,457.8 L808.1,457.8 L813.1,462.8 L813.1,548.8 L808.1,553.8 L722.1,553.8 L717.1,548.8 L717.1,462.8 Z" stroke="#5f6a68" stroke-width="1.0" fill="#dce3e0"/><circle cx="727.20" cy="468.40" r="8.90" stroke="#5f6a68" stroke-width="1.0" fill="#dce3e0"/><circle cx="727.20" cy="468.40" r="5.90" stroke="#5f6a68" stroke-width="0.9" fill="#dce3e0"/><line x1="715.80" y1="468.40" x2="738.60" y2="468.40" stroke="#a0a6a5" stroke-width="0.45" stroke-dasharray="2 1"/><line x1="727.20" y1="457.00" x2="727.20" y2="479.80" stroke="#a0a6a5" stroke-width="0.45" stroke-dasharray="2 1"/><circle cx="802.40" cy="468.40" r="8.90" stroke="#5f6a68" stroke-width="1.0" fill="#dce3e0"/><circle cx="802.40" cy="468.40" r="5.90" stroke="#5f6a68" stroke-width="0.9" fill="#dce3e0"/><line x1="791.00" y1="468.40" x2="813.80" y2="468.40" stroke="#a0a6a5" stroke-width="0.45" stroke-dasharray="2 1"/><line x1="802.40" y1="457.00" x2="802.40" y2="479.80" stroke="#a0a6a5" stroke-width="0.45" stroke-dasharray="2 1"/><circle cx="727.20" cy="543.10" r="8.90" stroke="#5f6a68" stroke-width="1.0" fill="#dce3e0"/><circle cx="727.20" cy="543.10" r="5.90" stroke="#5f6a68" stroke-width="0.9" fill="#dce3e0"/><line x1="715.80" y1="543.10" x2="738.60" y2="543.10" stroke="#a0a6a5" stroke-width="0.45" stroke-dasharray="2 1"/><line x1="727.20" y1="531.70" x2="727.20" y2="554.50" stroke="#a0a6a5" stroke-width="0.45" stroke-dasharray="2 1"/><circle cx="802.40" cy="543.10" r="8.90" stroke="#5f6a68" stroke-width="1.0" fill="#dce3e0"/><circle cx="802.40" cy="543.10" r="5.90" stroke="#5f6a68" stroke-width="0.9" fill="#dce3e0"/><line x1="791.00" y1="543.10" x2="813.80" y2="543.10" stroke="#a0a6a5" stroke-width="0.45" stroke-dasharray="2 1"/><line x1="802.40" y1="531.70" x2="802.40" y2="554.50" stroke="#a0a6a5" stroke-width="0.45" stroke-dasharray="2 1"/><circle cx="747.70" cy="543.10" r="3.30" stroke="#a3a9a8" stroke-width="0.5" fill="none" stroke-dasharray="1.4 1"/><path d="M741.7,543.1 A6,6 0 0 1 747.7,537.1" stroke="#a3a9a8" stroke-width="0.5" fill="none" stroke-dasharray="1.4 1"/><line x1="740.70" y1="543.10" x2="754.70" y2="543.10" stroke="#a3a9a8" stroke-width="0.5"/><line x1="747.70" y1="536.10" x2="747.70" y2="550.10" stroke="#a3a9a8" stroke-width="0.5"/><circle cx="782.30" cy="543.10" r="3.30" stroke="#a3a9a8" stroke-width="0.5" fill="none" stroke-dasharray="1.4 1"/><path d="M776.3,543.1 A6,6 0 0 1 782.3,537.1" stroke="#a3a9a8" stroke-width="0.5" fill="none" stroke-dasharray="1.4 1"/><line x1="775.30" y1="543.10" x2="789.30" y2="543.10" stroke="#a3a9a8" stroke-width="0.5"/><line x1="782.30" y1="536.10" x2="782.30" y2="550.10" stroke="#a3a9a8" stroke-width="0.5"/><rect x="736.60" y="553.80" width="21.70" height="4.40" stroke="#5f6a68" stroke-width="0.8" fill="#dce3e0"/><rect x="740.60" y="558.20" width="14.20" height="4.50" stroke="#5f6a68" stroke-width="0.8" fill="#dce3e0"/><rect x="744.00" y="562.70" width="7.60" height="3.50" stroke="#5f6a68" stroke-width="0.8" fill="#dce3e0"/><line x1="765.10" y1="450.00" x2="765.10" y2="566.00" stroke="#9aa09f" stroke-width="0.5" stroke-dasharray="14 2 2 2"/><line x1="710.00" y1="506.10" x2="858.00" y2="506.10" stroke="#9aa09f" stroke-width="0.5" stroke-dasharray="14 2 2 2"/><rect x="793.00" y="478.00" width="12.00" height="4.90" stroke="#5f6a68" stroke-width="0.9" fill="#dce3e0" rx="1.6"/><rect x="793.00" y="529.60" width="12.00" height="4.90" stroke="#5f6a68" stroke-width="0.9" fill="#dce3e0" rx="1.6"/><rect x="785.90" y="482.70" width="25.80" height="47.10" stroke="#5f6a68" stroke-width="1.0" fill="#dce3e0"/><line x1="785.90" y1="484.50" x2="811.70" y2="484.50" stroke="#5f6a68" stroke-width="0.5"/><line x1="785.90" y1="528.00" x2="811.70" y2="528.00" stroke="#5f6a68" stroke-width="0.5"/><rect x="759.00" y="489.80" width="12.00" height="4.60" stroke="#5f6a68" stroke-width="0.9" fill="#dce3e0" rx="1.6"/><rect x="759.00" y="518.00" width="12.00" height="4.60" stroke="#5f6a68" stroke-width="0.9" fill="#dce3e0" rx="1.6"/><path d="M755.6,494.2 L825.9,494.2 L853.4,497.2 L853.4,514.7 L825.9,518.2 L755.6,518.2 Q752.6,518.2 752.6,515.2 L752.6,497.2 Q752.6,494.2 755.6,494.2 Z" stroke="#5f6a68" stroke-width="1.0" fill="#dce3e0"/><line x1="825.90" y1="494.20" x2="825.90" y2="518.20" stroke="#5f6a68" stroke-width="0.9"/><line x1="776.00" y1="493.50" x2="776.00" y2="519.00" stroke="#5f6a68" stroke-width="0.5"/><rect x="753.40" y="501.30" width="25.40" height="8.90" stroke="#5f6a68" stroke-width="0.8" fill="#dce3e0"/><line x1="775.50" y1="501.30" x2="775.50" y2="510.20" stroke="#5f6a68" stroke-width="0.5"/><line x1="710.00" y1="506.10" x2="858.00" y2="506.10" stroke="#9aa09f" stroke-width="0.5" stroke-dasharray="14 2 2 2"/><text transform="translate(825.30,485.00)" x="0" y="4.12" text-anchor="middle" font-size="11.5" font-weight="bold" fill="#1e1e1e">R</text><line x1="136.50" y1="394.00" x2="136.50" y2="442.00" stroke="#a3a8a7" stroke-width="0.6"/><line x1="240.00" y1="394.00" x2="240.00" y2="510.00" stroke="#a3a8a7" stroke-width="0.6"/><line x1="139.30" y1="397.70" x2="237.00" y2="397.70" stroke="#4a4a4a" stroke-width="0.6"/><polygon points="139.30,397.70 143.50,396.20 143.50,399.20" fill="#111"/><polygon points="237.00,397.70 232.80,399.20 232.80,396.20" fill="#111"/><text transform="translate(188.30,392.80)" x="0" y="3.58" text-anchor="middle" font-size="10" stroke="#1e1e1e" stroke-width="0.2" fill="#1e1e1e">F</text><line x1="151.50" y1="408.00" x2="151.50" y2="516.00" stroke="#7f8786" stroke-width="0.5" stroke-dasharray="7 1.6 1.6 1.6"/><line x1="154.30" y1="410.80" x2="236.00" y2="410.80" stroke="#4a4a4a" stroke-width="0.6"/><polygon points="154.30,410.80 158.50,409.30 158.50,412.30" fill="#111"/><polygon points="236.00,410.80 231.80,412.30 231.80,409.30" fill="#111"/><text transform="translate(196.70,405.80)" x="0" y="3.58" text-anchor="middle" font-size="10" stroke="#1e1e1e" stroke-width="0.2" fill="#1e1e1e">G1</text><line x1="186.80" y1="420.00" x2="186.80" y2="446.00" stroke="#a3a8a7" stroke-width="0.6"/><line x1="154.30" y1="425.00" x2="184.50" y2="425.00" stroke="#4a4a4a" stroke-width="0.6"/><polygon points="154.30,425.00 158.50,423.50 158.50,426.50" fill="#111"/><polygon points="184.50,425.00 180.30,426.50 180.30,423.50" fill="#111"/><text transform="translate(169.20,419.70)" x="0" y="3.58" text-anchor="middle" font-size="10" stroke="#1e1e1e" stroke-width="0.2" fill="#1e1e1e">G2</text><line x1="195.00" y1="439.70" x2="212.50" y2="439.70" stroke="#4a4a4a" stroke-width="0.6"/><polygon points="199.30,439.70 195.80,441.00 195.80,438.40" fill="#111"/><polygon points="208.50,439.70 212.00,438.40 212.00,441.00" fill="#111"/><line x1="209.80" y1="416.00" x2="209.80" y2="443.00" stroke="#a3a8a7" stroke-width="0.6"/><text transform="translate(204.20,434.50)" x="0" y="3.58" text-anchor="middle" font-size="10" stroke="#1e1e1e" stroke-width="0.2" fill="#1e1e1e">T</text><path d="M211,414.5 A30,30 0 0 1 224.5,441" stroke="#4a4a4a" stroke-width="0.6" fill="none"/><polygon points="211.50,414.30 215.13,414.03 214.38,416.52" fill="#111"/><polygon points="224.60,441.50 223.13,438.17 225.73,438.04" fill="#111"/><text transform="translate(226.00,424.60)" x="0" y="4.12" text-anchor="middle" font-size="11.5" stroke="#1e1e1e" stroke-width="0.2" fill="#1e1e1e">α</text><line x1="123.00" y1="438.50" x2="141.00" y2="438.50" stroke="#a3a8a7" stroke-width="0.6"/><line x1="123.00" y1="443.00" x2="137.00" y2="443.00" stroke="#a3a8a7" stroke-width="0.6"/><line x1="124.00" y1="428.00" x2="124.00" y2="455.00" stroke="#4a4a4a" stroke-width="0.5"/><polygon points="124.00,438.30 122.70,434.90 125.30,434.90" fill="#111"/><polygon points="124.00,443.20 125.30,446.60 122.70,446.60" fill="#111"/><text transform="translate(118.20,451.50) rotate(-90)" x="0" y="3.69" text-anchor="middle" font-size="10.3" stroke="#1e1e1e" stroke-width="0.2" fill="#1e1e1e">H</text><line x1="122.00" y1="470.00" x2="143.00" y2="461.50" stroke="#666" stroke-width="0.5"/><text transform="translate(126.80,463.00) rotate(-28)" x="0" y="3.58" text-anchor="middle" font-size="10" stroke="#1e1e1e" stroke-width="0.2" fill="#1e1e1e">ΦD</text><text transform="translate(111.30,491.00) rotate(-90)" text-anchor="start" font-size="10.2" fill="#1e1e1e" stroke="#1e1e1e" stroke-width="0.2">H:</text><text transform="translate(111.30,474.20) rotate(-90) scale(1.046,1)" text-anchor="start" font-size="10.2" fill="#1e1e1e" stroke="#1e1e1e" stroke-width="0.2">Raise clearance</text><text transform="translate(100.20,491.00) rotate(-90)" text-anchor="start" font-size="10.2" fill="#1e1e1e" stroke="#1e1e1e" stroke-width="0.2">H:</text><text transform="translate(100.60,480.60) rotate(-90)" font-size="10.4" fill="#1e1e1e" textLength="40" lengthAdjust="spacingAndGlyphs">上升餘隙</text><line x1="218.00" y1="443.00" x2="283.00" y2="443.00" stroke="#a3a8a7" stroke-width="0.6"/><line x1="242.50" y1="473.20" x2="270.00" y2="473.20" stroke="#a3a8a7" stroke-width="0.6"/><line x1="242.50" y1="455.80" x2="256.00" y2="455.80" stroke="#a3a8a7" stroke-width="0.6"/><line x1="200.00" y1="549.70" x2="271.00" y2="549.70" stroke="#a3a8a7" stroke-width="0.6"/><line x1="195.00" y1="630.00" x2="283.00" y2="630.00" stroke="#a3a8a7" stroke-width="0.6"/><line x1="267.50" y1="444.00" x2="267.50" y2="472.30" stroke="#4a4a4a" stroke-width="0.6"/><polygon points="267.50,444.00 269.00,448.20 266.00,448.20" fill="#111"/><polygon points="267.50,472.30 266.00,468.10 269.00,468.10" fill="#111"/><line x1="253.70" y1="457.50" x2="253.70" y2="472.00" stroke="#4a4a4a" stroke-width="0.6"/><polygon points="253.70,457.50 255.20,461.70 252.20,461.70" fill="#111"/><polygon points="253.70,472.00 252.20,467.80 255.20,467.80" fill="#111"/><text transform="translate(248.30,463.50) rotate(-90)" x="0" y="3.69" text-anchor="middle" font-size="10.3" stroke="#1e1e1e" stroke-width="0.2" fill="#1e1e1e">C2</text><text transform="translate(262.00,457.50) rotate(-90)" x="0" y="3.69" text-anchor="middle" font-size="10.3" stroke="#1e1e1e" stroke-width="0.2" fill="#1e1e1e">C1</text><line x1="267.50" y1="475.50" x2="267.50" y2="548.50" stroke="#4a4a4a" stroke-width="0.6"/><polygon points="267.50,475.50 269.00,479.70 266.00,479.70" fill="#111"/><polygon points="267.50,548.50 266.00,544.30 269.00,544.30" fill="#111"/><text transform="translate(262.50,511.00) rotate(-90)" x="0" y="3.69" text-anchor="middle" font-size="10.3" stroke="#1e1e1e" stroke-width="0.2" fill="#1e1e1e">A1</text><line x1="280.80" y1="444.00" x2="280.80" y2="628.80" stroke="#4a4a4a" stroke-width="0.6"/><polygon points="280.80,444.00 282.30,448.20 279.30,448.20" fill="#111"/><polygon points="280.80,628.80 279.30,624.60 282.30,624.60" fill="#111"/><text transform="translate(276.50,537.00) rotate(-90)" x="0" y="3.69" text-anchor="middle" font-size="10.3" stroke="#1e1e1e" stroke-width="0.2" fill="#1e1e1e">A2</text><line x1="267.50" y1="551.00" x2="267.50" y2="628.80" stroke="#4a4a4a" stroke-width="0.6"/><polygon points="267.50,551.00 269.00,555.20 266.00,555.20" fill="#111"/><polygon points="267.50,628.80 266.00,624.60 269.00,624.60" fill="#111"/><text transform="translate(262.80,589.00) rotate(-90)" x="0" y="3.69" text-anchor="middle" font-size="10.3" stroke="#1e1e1e" stroke-width="0.2" fill="#1e1e1e">B</text><line x1="197.00" y1="458.50" x2="217.00" y2="458.50" stroke="#a3a8a7" stroke-width="0.6"/><line x1="197.00" y1="496.60" x2="217.00" y2="496.60" stroke="#a3a8a7" stroke-width="0.6"/><line x1="213.00" y1="460.00" x2="213.00" y2="495.00" stroke="#4a4a4a" stroke-width="0.6"/><polygon points="213.00,460.00 214.50,464.20 211.50,464.20" fill="#111"/><polygon points="213.00,495.00 211.50,490.80 214.50,490.80" fill="#111"/><text transform="translate(206.70,481.50) rotate(-90)" x="0" y="3.69" text-anchor="middle" font-size="10.3" stroke="#1e1e1e" stroke-width="0.2" fill="#1e1e1e">G3</text><line x1="203.20" y1="508.00" x2="237.50" y2="508.00" stroke="#4a4a4a" stroke-width="0.6"/><polygon points="203.20,508.00 207.40,506.50 207.40,509.50" fill="#111"/><polygon points="237.50,508.00 233.30,509.50 233.30,506.50" fill="#111"/><text transform="translate(221.70,503.00)" x="0" y="3.58" text-anchor="middle" font-size="10" stroke="#1e1e1e" stroke-width="0.2" fill="#1e1e1e">E</text><line x1="98.30" y1="552.00" x2="98.30" y2="564.50" stroke="#a3a8a7" stroke-width="0.6"/><line x1="53.90" y1="562.90" x2="97.00" y2="562.90" stroke="#9a9a9a" stroke-width="0.7"/><polygon points="98.10,562.90 94.70,564.20 94.70,561.60" fill="#111"/><text transform="translate(53.90,559.80) scale(1.118,1)" text-anchor="start" font-size="9.6" fill="#1e1e1e" stroke="#1e1e1e" stroke-width="0.2">O–Ring</text><line x1="113.70" y1="632.00" x2="113.70" y2="648.00" stroke="#a3a8a7" stroke-width="0.6"/><line x1="193.10" y1="632.00" x2="193.10" y2="648.00" stroke="#a3a8a7" stroke-width="0.6"/><line x1="114.20" y1="643.60" x2="192.60" y2="643.60" stroke="#4a4a4a" stroke-width="0.6"/><polygon points="114.20,643.60 118.40,642.10 118.40,645.10" fill="#111"/><polygon points="192.60,643.60 188.40,645.10 188.40,642.10" fill="#111"/><text transform="translate(152.70,639.00)" x="0" y="3.58" text-anchor="middle" font-size="10" stroke="#1e1e1e" stroke-width="0.2" fill="#1e1e1e">ΦI</text><path d="M141,438.5 L160,438.5 L163.5,442" stroke="#9da3a2" stroke-width="0.6" fill="none" stroke-dasharray="2.2 1.4"/><path d="M163,440 L177.5,421 L191.5,412.7 L207.5,419.5 L198.5,438" stroke="#9da3a2" stroke-width="0.6" fill="none" stroke-dasharray="2.2 1.4"/><path d="M168,429 L186.5,438.5" stroke="#9da3a2" stroke-width="0.6" fill="none" stroke-dasharray="2.2 1.4"/><path d="M155,437 L170,430" stroke="#9da3a2" stroke-width="0.6" fill="none" stroke-dasharray="2.2 1.4"/><rect x="92.90" y="516.60" width="105.40" height="33.10" stroke="#1c1c1c" stroke-width="1.5" fill="#dce3e0"/><path d="M113.7,549.7 L193.1,549.7 L193.1,627.5 Q193.1,630 190.6,630 L116.2,630 Q113.7,630 113.7,627.5 Z" stroke="#1c1c1c" stroke-width="1.5" fill="#dce3e0"/><line x1="109.00" y1="518.00" x2="109.00" y2="548.00" stroke="#7f8786" stroke-width="0.55" stroke-dasharray="2 1.4"/><line x1="112.50" y1="518.00" x2="112.50" y2="548.00" stroke="#7f8786" stroke-width="0.55" stroke-dasharray="2 1.4"/><line x1="121.00" y1="518.00" x2="121.00" y2="548.00" stroke="#7f8786" stroke-width="0.55" stroke-dasharray="2 1.4"/><line x1="125.00" y1="518.00" x2="125.00" y2="548.00" stroke="#7f8786" stroke-width="0.55" stroke-dasharray="2 1.4"/><line x1="180.00" y1="518.00" x2="180.00" y2="548.00" stroke="#7f8786" stroke-width="0.55" stroke-dasharray="2 1.4"/><line x1="183.50" y1="518.00" x2="183.50" y2="548.00" stroke="#7f8786" stroke-width="0.55" stroke-dasharray="2 1.4"/><line x1="192.00" y1="518.00" x2="192.00" y2="548.00" stroke="#7f8786" stroke-width="0.55" stroke-dasharray="2 1.4"/><line x1="195.50" y1="518.00" x2="195.50" y2="548.00" stroke="#7f8786" stroke-width="0.55" stroke-dasharray="2 1.4"/><line x1="117.00" y1="514.00" x2="117.00" y2="549.00" stroke="#8f9594" stroke-width="0.45"/><line x1="187.80" y1="514.00" x2="187.80" y2="549.00" stroke="#8f9594" stroke-width="0.45"/><line x1="98.00" y1="547.00" x2="113.00" y2="547.00" stroke="#7f8786" stroke-width="0.5" stroke-dasharray="2 1.4"/><line x1="102.00" y1="540.00" x2="102.00" y2="548.00" stroke="#7f8786" stroke-width="0.5" stroke-dasharray="2 1.4"/><line x1="106.00" y1="540.00" x2="106.00" y2="548.00" stroke="#7f8786" stroke-width="0.5" stroke-dasharray="2 1.4"/><line x1="151.30" y1="516.00" x2="151.30" y2="650.00" stroke="#7f8786" stroke-width="0.5" stroke-dasharray="14 2 2 2"/><rect x="135.70" y="477.00" width="33.00" height="39.60" stroke="#1c1c1c" stroke-width="1.4" fill="#dce3e0"/><line x1="135.70" y1="479.80" x2="168.70" y2="479.80" stroke="#1c1c1c" stroke-width="0.9"/><rect x="174.30" y="480.00" width="26.20" height="36.60" stroke="#1c1c1c" stroke-width="1.4" fill="#dce3e0"/><path d="M137.5,443 L215.8,443 L240.8,455.8 L240.8,473.2 L144.5,473.2 L137.5,468 Z" stroke="#1c1c1c" stroke-width="1.5" fill="#dce3e0"/><line x1="138.00" y1="473.80" x2="166.50" y2="473.80" stroke="#777" stroke-width="0.5"/><rect x="174.30" y="445.50" width="26.20" height="64.00" stroke="#1c1c1c" stroke-width="1.5" fill="#dce3e0" rx="13"/><circle cx="151.50" cy="496.60" r="13.50" stroke="#9aa09f" stroke-width="0.5" fill="none" stroke-dasharray="2 1.3"/><line x1="137.00" y1="496.60" x2="166.00" y2="496.60" stroke="#666" stroke-width="0.6" stroke-dasharray="14 2 2 2"/><text transform="translate(152.00,496.50)" x="0" y="3.58" text-anchor="middle" font-size="10" stroke="#1e1e1e" stroke-width="0.2" fill="#1e1e1e">Q</text><polygon points="137.00,496.60 140.00,495.40 140.00,497.80" fill="#111"/><polygon points="167.00,496.60 164.00,497.80 164.00,495.40" fill="#111"/><path d="M147.74,463.31 A6.1,6.1 0 1 1 155.26,463.31" stroke="#1c1c1c" stroke-width="2.7" fill="none"/><path d="M146.62,465.21 A8.3,8.3 0 1 1 156.38,465.21" stroke="#1c1c1c" stroke-width="1.1" fill="none"/><circle cx="146.97" cy="462.73" r="1.10" stroke="none" stroke-width="0" fill="#f4f6f5"/><circle cx="156.03" cy="462.73" r="1.10" stroke="none" stroke-width="0" fill="#f4f6f5"/><circle cx="151.50" cy="451.60" r="0.90" stroke="none" stroke-width="0" fill="#cfd5d3"/><circle cx="151.50" cy="458.50" r="4.10" stroke="#1c1c1c" stroke-width="1.2" fill="#e9edec"/><line x1="150.30" y1="458.50" x2="152.70" y2="458.50" stroke="#999" stroke-width="0.4"/><line x1="151.50" y1="457.30" x2="151.50" y2="459.70" stroke="#999" stroke-width="0.4"/><path d="M183.54,463.31 A6.1,6.1 0 1 1 191.06,463.31" stroke="#1c1c1c" stroke-width="2.7" fill="none"/><path d="M182.42,465.21 A8.3,8.3 0 1 1 192.18,465.21" stroke="#1c1c1c" stroke-width="1.1" fill="none"/><circle cx="182.77" cy="462.73" r="1.10" stroke="none" stroke-width="0" fill="#f4f6f5"/><circle cx="191.83" cy="462.73" r="1.10" stroke="none" stroke-width="0" fill="#f4f6f5"/><circle cx="187.30" cy="451.60" r="0.90" stroke="none" stroke-width="0" fill="#cfd5d3"/><circle cx="187.30" cy="458.50" r="4.10" stroke="#1c1c1c" stroke-width="1.2" fill="#e9edec"/><line x1="186.10" y1="458.50" x2="188.50" y2="458.50" stroke="#999" stroke-width="0.4"/><line x1="187.30" y1="457.30" x2="187.30" y2="459.70" stroke="#999" stroke-width="0.4"/><path d="M183.54,501.41 A6.1,6.1 0 1 1 191.06,501.41" stroke="#1c1c1c" stroke-width="2.7" fill="none"/><path d="M182.42,503.31 A8.3,8.3 0 1 1 192.18,503.31" stroke="#1c1c1c" stroke-width="1.1" fill="none"/><circle cx="182.77" cy="500.83" r="1.10" stroke="none" stroke-width="0" fill="#f4f6f5"/><circle cx="191.83" cy="500.83" r="1.10" stroke="none" stroke-width="0" fill="#f4f6f5"/><circle cx="187.30" cy="489.70" r="0.90" stroke="none" stroke-width="0" fill="#cfd5d3"/><circle cx="187.30" cy="496.60" r="4.10" stroke="#1c1c1c" stroke-width="1.2" fill="#e9edec"/><line x1="186.10" y1="496.60" x2="188.50" y2="496.60" stroke="#999" stroke-width="0.4"/><line x1="187.30" y1="495.40" x2="187.30" y2="497.80" stroke="#999" stroke-width="0.4"/><line x1="151.50" y1="443.00" x2="151.50" y2="516.00" stroke="#7f8786" stroke-width="0.45" stroke-dasharray="5 1.5 1.5 1.5"/><line x1="172.00" y1="444.00" x2="172.00" y2="472.00" stroke="#7f8786" stroke-width="0.45" stroke-dasharray="2 1.4"/><line x1="163.00" y1="444.00" x2="163.00" y2="472.00" stroke="#7f8786" stroke-width="0.45" stroke-dasharray="2 1.4"/><line x1="200.50" y1="473.20" x2="240.80" y2="473.20" stroke="#1c1c1c" stroke-width="1.5"/><line x1="201.00" y1="458.50" x2="217.00" y2="458.50" stroke="#a3a8a7" stroke-width="0.6"/><line x1="114.50" y1="562.90" x2="119.00" y2="562.90" stroke="#9a9a9a" stroke-width="0.7"/><polygon points="114.20,562.90 117.40,561.60 117.40,564.20" fill="#111"/><line x1="553.50" y1="396.00" x2="553.50" y2="444.00" stroke="#a3a8a7" stroke-width="0.6"/><line x1="657.00" y1="396.00" x2="657.00" y2="512.00" stroke="#a3a8a7" stroke-width="0.6"/><line x1="556.30" y1="399.70" x2="654.00" y2="399.70" stroke="#4a4a4a" stroke-width="0.6"/><polygon points="556.30,399.70 560.50,398.20 560.50,401.20" fill="#111"/><polygon points="654.00,399.70 649.80,401.20 649.80,398.20" fill="#111"/><text transform="translate(605.30,394.80)" x="0" y="3.58" text-anchor="middle" font-size="10" stroke="#1e1e1e" stroke-width="0.2" fill="#1e1e1e">F</text><line x1="568.50" y1="410.00" x2="568.50" y2="518.00" stroke="#7f8786" stroke-width="0.5" stroke-dasharray="7 1.6 1.6 1.6"/><line x1="571.30" y1="412.80" x2="653.00" y2="412.80" stroke="#4a4a4a" stroke-width="0.6"/><polygon points="571.30,412.80 575.50,411.30 575.50,414.30" fill="#111"/><polygon points="653.00,412.80 648.80,414.30 648.80,411.30" fill="#111"/><text transform="translate(613.70,407.80)" x="0" y="3.58" text-anchor="middle" font-size="10" stroke="#1e1e1e" stroke-width="0.2" fill="#1e1e1e">G1</text><line x1="603.80" y1="422.00" x2="603.80" y2="448.00" stroke="#a3a8a7" stroke-width="0.6"/><line x1="571.30" y1="427.00" x2="601.50" y2="427.00" stroke="#4a4a4a" stroke-width="0.6"/><polygon points="571.30,427.00 575.50,425.50 575.50,428.50" fill="#111"/><polygon points="601.50,427.00 597.30,428.50 597.30,425.50" fill="#111"/><text transform="translate(586.20,421.70)" x="0" y="3.58" text-anchor="middle" font-size="10" stroke="#1e1e1e" stroke-width="0.2" fill="#1e1e1e">G2</text><line x1="612.00" y1="441.70" x2="629.50" y2="441.70" stroke="#4a4a4a" stroke-width="0.6"/><polygon points="616.30,441.70 612.80,443.00 612.80,440.40" fill="#111"/><polygon points="625.50,441.70 629.00,440.40 629.00,443.00" fill="#111"/><line x1="626.80" y1="418.00" x2="626.80" y2="445.00" stroke="#a3a8a7" stroke-width="0.6"/><text transform="translate(621.20,436.50)" x="0" y="3.58" text-anchor="middle" font-size="10" stroke="#1e1e1e" stroke-width="0.2" fill="#1e1e1e">T</text><path d="M628,416.5 A30,30 0 0 1 641.5,443" stroke="#4a4a4a" stroke-width="0.6" fill="none"/><polygon points="628.50,416.30 632.13,416.03 631.38,418.52" fill="#111"/><polygon points="641.60,443.50 640.13,440.17 642.73,440.04" fill="#111"/><text transform="translate(643.00,426.60)" x="0" y="4.12" text-anchor="middle" font-size="11.5" stroke="#1e1e1e" stroke-width="0.2" fill="#1e1e1e">α</text><line x1="540.00" y1="440.50" x2="558.00" y2="440.50" stroke="#a3a8a7" stroke-width="0.6"/><line x1="540.00" y1="445.00" x2="554.00" y2="445.00" stroke="#a3a8a7" stroke-width="0.6"/><line x1="541.00" y1="430.00" x2="541.00" y2="457.00" stroke="#4a4a4a" stroke-width="0.5"/><polygon points="541.00,440.30 539.70,436.90 542.30,436.90" fill="#111"/><polygon points="541.00,445.20 542.30,448.60 539.70,448.60" fill="#111"/><text transform="translate(535.20,453.50) rotate(-90)" x="0" y="3.69" text-anchor="middle" font-size="10.3" stroke="#1e1e1e" stroke-width="0.2" fill="#1e1e1e">H</text><line x1="539.00" y1="472.00" x2="560.00" y2="463.50" stroke="#666" stroke-width="0.5"/><text transform="translate(543.80,465.00) rotate(-28)" x="0" y="3.58" text-anchor="middle" font-size="10" stroke="#1e1e1e" stroke-width="0.2" fill="#1e1e1e">ΦD</text><text transform="translate(528.30,493.00) rotate(-90)" text-anchor="start" font-size="10.2" fill="#1e1e1e" stroke="#1e1e1e" stroke-width="0.2">H:</text><text transform="translate(528.30,476.20) rotate(-90) scale(1.046,1)" text-anchor="start" font-size="10.2" fill="#1e1e1e" stroke="#1e1e1e" stroke-width="0.2">Raise clearance</text><text transform="translate(517.20,493.00) rotate(-90)" text-anchor="start" font-size="10.2" fill="#1e1e1e" stroke="#1e1e1e" stroke-width="0.2">H:</text><text transform="translate(517.60,482.60) rotate(-90)" font-size="10.4" fill="#1e1e1e" textLength="40" lengthAdjust="spacingAndGlyphs">上升餘隙</text><line x1="635.00" y1="445.00" x2="700.00" y2="445.00" stroke="#a3a8a7" stroke-width="0.6"/><line x1="659.50" y1="475.20" x2="687.00" y2="475.20" stroke="#a3a8a7" stroke-width="0.6"/><line x1="659.50" y1="457.80" x2="673.00" y2="457.80" stroke="#a3a8a7" stroke-width="0.6"/><line x1="617.00" y1="551.70" x2="688.00" y2="551.70" stroke="#a3a8a7" stroke-width="0.6"/><line x1="612.00" y1="632.00" x2="700.00" y2="632.00" stroke="#a3a8a7" stroke-width="0.6"/><line x1="684.50" y1="446.00" x2="684.50" y2="474.30" stroke="#4a4a4a" stroke-width="0.6"/><polygon points="684.50,446.00 686.00,450.20 683.00,450.20" fill="#111"/><polygon points="684.50,474.30 683.00,470.10 686.00,470.10" fill="#111"/><line x1="670.70" y1="459.50" x2="670.70" y2="474.00" stroke="#4a4a4a" stroke-width="0.6"/><polygon points="670.70,459.50 672.20,463.70 669.20,463.70" fill="#111"/><polygon points="670.70,474.00 669.20,469.80 672.20,469.80" fill="#111"/><text transform="translate(665.30,465.50) rotate(-90)" x="0" y="3.69" text-anchor="middle" font-size="10.3" stroke="#1e1e1e" stroke-width="0.2" fill="#1e1e1e">C2</text><text transform="translate(679.00,459.50) rotate(-90)" x="0" y="3.69" text-anchor="middle" font-size="10.3" stroke="#1e1e1e" stroke-width="0.2" fill="#1e1e1e">C1</text><line x1="684.50" y1="477.50" x2="684.50" y2="550.50" stroke="#4a4a4a" stroke-width="0.6"/><polygon points="684.50,477.50 686.00,481.70 683.00,481.70" fill="#111"/><polygon points="684.50,550.50 683.00,546.30 686.00,546.30" fill="#111"/><text transform="translate(679.50,513.00) rotate(-90)" x="0" y="3.69" text-anchor="middle" font-size="10.3" stroke="#1e1e1e" stroke-width="0.2" fill="#1e1e1e">A1</text><line x1="697.80" y1="446.00" x2="697.80" y2="630.80" stroke="#4a4a4a" stroke-width="0.6"/><polygon points="697.80,446.00 699.30,450.20 696.30,450.20" fill="#111"/><polygon points="697.80,630.80 696.30,626.60 699.30,626.60" fill="#111"/><text transform="translate(693.50,539.00) rotate(-90)" x="0" y="3.69" text-anchor="middle" font-size="10.3" stroke="#1e1e1e" stroke-width="0.2" fill="#1e1e1e">A2</text><line x1="684.50" y1="553.00" x2="684.50" y2="630.80" stroke="#4a4a4a" stroke-width="0.6"/><polygon points="684.50,553.00 686.00,557.20 683.00,557.20" fill="#111"/><polygon points="684.50,630.80 683.00,626.60 686.00,626.60" fill="#111"/><text transform="translate(679.80,591.00) rotate(-90)" x="0" y="3.69" text-anchor="middle" font-size="10.3" stroke="#1e1e1e" stroke-width="0.2" fill="#1e1e1e">B</text><line x1="614.00" y1="460.50" x2="634.00" y2="460.50" stroke="#a3a8a7" stroke-width="0.6"/><line x1="614.00" y1="498.60" x2="634.00" y2="498.60" stroke="#a3a8a7" stroke-width="0.6"/><line x1="630.00" y1="462.00" x2="630.00" y2="497.00" stroke="#4a4a4a" stroke-width="0.6"/><polygon points="630.00,462.00 631.50,466.20 628.50,466.20" fill="#111"/><polygon points="630.00,497.00 628.50,492.80 631.50,492.80" fill="#111"/><text transform="translate(623.70,483.50) rotate(-90)" x="0" y="3.69" text-anchor="middle" font-size="10.3" stroke="#1e1e1e" stroke-width="0.2" fill="#1e1e1e">G3</text><line x1="620.20" y1="510.00" x2="654.50" y2="510.00" stroke="#4a4a4a" stroke-width="0.6"/><polygon points="620.20,510.00 624.40,508.50 624.40,511.50" fill="#111"/><polygon points="654.50,510.00 650.30,511.50 650.30,508.50" fill="#111"/><text transform="translate(638.70,505.00)" x="0" y="3.58" text-anchor="middle" font-size="10" stroke="#1e1e1e" stroke-width="0.2" fill="#1e1e1e">E</text><line x1="515.30" y1="554.00" x2="515.30" y2="566.50" stroke="#a3a8a7" stroke-width="0.6"/><line x1="470.90" y1="564.90" x2="514.00" y2="564.90" stroke="#9a9a9a" stroke-width="0.7"/><polygon points="515.10,564.90 511.70,566.20 511.70,563.60" fill="#111"/><text transform="translate(470.90,561.80) scale(1.118,1)" text-anchor="start" font-size="9.6" fill="#1e1e1e" stroke="#1e1e1e" stroke-width="0.2">O–Ring</text><line x1="530.70" y1="634.00" x2="530.70" y2="650.00" stroke="#a3a8a7" stroke-width="0.6"/><line x1="610.10" y1="634.00" x2="610.10" y2="650.00" stroke="#a3a8a7" stroke-width="0.6"/><line x1="531.20" y1="645.60" x2="609.60" y2="645.60" stroke="#4a4a4a" stroke-width="0.6"/><polygon points="531.20,645.60 535.40,644.10 535.40,647.10" fill="#111"/><polygon points="609.60,645.60 605.40,647.10 605.40,644.10" fill="#111"/><text transform="translate(569.70,641.00)" x="0" y="3.58" text-anchor="middle" font-size="10" stroke="#1e1e1e" stroke-width="0.2" fill="#1e1e1e">ΦI</text><path d="M558,440.5 L577,440.5 L580.5,444" stroke="#9da3a2" stroke-width="0.6" fill="none" stroke-dasharray="2.2 1.4"/><path d="M580,442 L594.5,423 L608.5,414.7 L624.5,421.5 L615.5,440" stroke="#9da3a2" stroke-width="0.6" fill="none" stroke-dasharray="2.2 1.4"/><path d="M585,431 L603.5,440.5" stroke="#9da3a2" stroke-width="0.6" fill="none" stroke-dasharray="2.2 1.4"/><path d="M572,439 L587,432" stroke="#9da3a2" stroke-width="0.6" fill="none" stroke-dasharray="2.2 1.4"/><rect x="509.90" y="518.60" width="105.40" height="33.10" stroke="#1c1c1c" stroke-width="1.5" fill="#dce3e0"/><path d="M530.7,551.7 L610.1,551.7 L610.1,629.5 Q610.1,632 607.6,632 L533.2,632 Q530.7,632 530.7,629.5 Z" stroke="#1c1c1c" stroke-width="1.5" fill="#dce3e0"/><line x1="526.00" y1="520.00" x2="526.00" y2="550.00" stroke="#7f8786" stroke-width="0.55" stroke-dasharray="2 1.4"/><line x1="529.50" y1="520.00" x2="529.50" y2="550.00" stroke="#7f8786" stroke-width="0.55" stroke-dasharray="2 1.4"/><line x1="538.00" y1="520.00" x2="538.00" y2="550.00" stroke="#7f8786" stroke-width="0.55" stroke-dasharray="2 1.4"/><line x1="542.00" y1="520.00" x2="542.00" y2="550.00" stroke="#7f8786" stroke-width="0.55" stroke-dasharray="2 1.4"/><line x1="597.00" y1="520.00" x2="597.00" y2="550.00" stroke="#7f8786" stroke-width="0.55" stroke-dasharray="2 1.4"/><line x1="600.50" y1="520.00" x2="600.50" y2="550.00" stroke="#7f8786" stroke-width="0.55" stroke-dasharray="2 1.4"/><line x1="609.00" y1="520.00" x2="609.00" y2="550.00" stroke="#7f8786" stroke-width="0.55" stroke-dasharray="2 1.4"/><line x1="612.50" y1="520.00" x2="612.50" y2="550.00" stroke="#7f8786" stroke-width="0.55" stroke-dasharray="2 1.4"/><line x1="534.00" y1="516.00" x2="534.00" y2="551.00" stroke="#8f9594" stroke-width="0.45"/><line x1="604.80" y1="516.00" x2="604.80" y2="551.00" stroke="#8f9594" stroke-width="0.45"/><line x1="515.00" y1="549.00" x2="530.00" y2="549.00" stroke="#7f8786" stroke-width="0.5" stroke-dasharray="2 1.4"/><line x1="519.00" y1="542.00" x2="519.00" y2="550.00" stroke="#7f8786" stroke-width="0.5" stroke-dasharray="2 1.4"/><line x1="523.00" y1="542.00" x2="523.00" y2="550.00" stroke="#7f8786" stroke-width="0.5" stroke-dasharray="2 1.4"/><line x1="568.30" y1="518.00" x2="568.30" y2="652.00" stroke="#7f8786" stroke-width="0.5" stroke-dasharray="14 2 2 2"/><rect x="552.70" y="479.00" width="33.00" height="39.60" stroke="#1c1c1c" stroke-width="1.4" fill="#dce3e0"/><line x1="552.70" y1="481.80" x2="585.70" y2="481.80" stroke="#1c1c1c" stroke-width="0.9"/><rect x="591.30" y="482.00" width="26.20" height="36.60" stroke="#1c1c1c" stroke-width="1.4" fill="#dce3e0"/><path d="M554.5,445 L632.8,445 L657.8,457.8 L657.8,475.2 L561.5,475.2 L554.5,470 Z" stroke="#1c1c1c" stroke-width="1.5" fill="#dce3e0"/><line x1="555.00" y1="475.80" x2="583.50" y2="475.80" stroke="#777" stroke-width="0.5"/><rect x="591.30" y="447.50" width="26.20" height="64.00" stroke="#1c1c1c" stroke-width="1.5" fill="#dce3e0" rx="13"/><circle cx="568.50" cy="498.60" r="13.50" stroke="#9aa09f" stroke-width="0.5" fill="none" stroke-dasharray="2 1.3"/><line x1="554.00" y1="498.60" x2="583.00" y2="498.60" stroke="#666" stroke-width="0.6" stroke-dasharray="14 2 2 2"/><text transform="translate(569.00,498.50)" x="0" y="3.58" text-anchor="middle" font-size="10" stroke="#1e1e1e" stroke-width="0.2" fill="#1e1e1e">Q</text><polygon points="554.00,498.60 557.00,497.40 557.00,499.80" fill="#111"/><polygon points="584.00,498.60 581.00,499.80 581.00,497.40" fill="#111"/><path d="M564.74,465.31 A6.1,6.1 0 1 1 572.26,465.31" stroke="#1c1c1c" stroke-width="2.7" fill="none"/><path d="M563.62,467.21 A8.3,8.3 0 1 1 573.38,467.21" stroke="#1c1c1c" stroke-width="1.1" fill="none"/><circle cx="563.97" cy="464.73" r="1.10" stroke="none" stroke-width="0" fill="#f4f6f5"/><circle cx="573.03" cy="464.73" r="1.10" stroke="none" stroke-width="0" fill="#f4f6f5"/><circle cx="568.50" cy="453.60" r="0.90" stroke="none" stroke-width="0" fill="#cfd5d3"/><circle cx="568.50" cy="460.50" r="4.10" stroke="#1c1c1c" stroke-width="1.2" fill="#e9edec"/><line x1="567.30" y1="460.50" x2="569.70" y2="460.50" stroke="#999" stroke-width="0.4"/><line x1="568.50" y1="459.30" x2="568.50" y2="461.70" stroke="#999" stroke-width="0.4"/><path d="M600.54,465.31 A6.1,6.1 0 1 1 608.06,465.31" stroke="#1c1c1c" stroke-width="2.7" fill="none"/><path d="M599.42,467.21 A8.3,8.3 0 1 1 609.18,467.21" stroke="#1c1c1c" stroke-width="1.1" fill="none"/><circle cx="599.77" cy="464.73" r="1.10" stroke="none" stroke-width="0" fill="#f4f6f5"/><circle cx="608.83" cy="464.73" r="1.10" stroke="none" stroke-width="0" fill="#f4f6f5"/><circle cx="604.30" cy="453.60" r="0.90" stroke="none" stroke-width="0" fill="#cfd5d3"/><circle cx="604.30" cy="460.50" r="4.10" stroke="#1c1c1c" stroke-width="1.2" fill="#e9edec"/><line x1="603.10" y1="460.50" x2="605.50" y2="460.50" stroke="#999" stroke-width="0.4"/><line x1="604.30" y1="459.30" x2="604.30" y2="461.70" stroke="#999" stroke-width="0.4"/><path d="M600.54,503.41 A6.1,6.1 0 1 1 608.06,503.41" stroke="#1c1c1c" stroke-width="2.7" fill="none"/><path d="M599.42,505.31 A8.3,8.3 0 1 1 609.18,505.31" stroke="#1c1c1c" stroke-width="1.1" fill="none"/><circle cx="599.77" cy="502.83" r="1.10" stroke="none" stroke-width="0" fill="#f4f6f5"/><circle cx="608.83" cy="502.83" r="1.10" stroke="none" stroke-width="0" fill="#f4f6f5"/><circle cx="604.30" cy="491.70" r="0.90" stroke="none" stroke-width="0" fill="#cfd5d3"/><circle cx="604.30" cy="498.60" r="4.10" stroke="#1c1c1c" stroke-width="1.2" fill="#e9edec"/><line x1="603.10" y1="498.60" x2="605.50" y2="498.60" stroke="#999" stroke-width="0.4"/><line x1="604.30" y1="497.40" x2="604.30" y2="499.80" stroke="#999" stroke-width="0.4"/><line x1="568.50" y1="445.00" x2="568.50" y2="518.00" stroke="#7f8786" stroke-width="0.45" stroke-dasharray="5 1.5 1.5 1.5"/><line x1="589.00" y1="446.00" x2="589.00" y2="474.00" stroke="#7f8786" stroke-width="0.45" stroke-dasharray="2 1.4"/><line x1="580.00" y1="446.00" x2="580.00" y2="474.00" stroke="#7f8786" stroke-width="0.45" stroke-dasharray="2 1.4"/><line x1="617.50" y1="475.20" x2="657.80" y2="475.20" stroke="#1c1c1c" stroke-width="1.5"/><line x1="618.00" y1="460.50" x2="634.00" y2="460.50" stroke="#a3a8a7" stroke-width="0.6"/><line x1="531.50" y1="564.90" x2="536.00" y2="564.90" stroke="#9a9a9a" stroke-width="0.7"/><polygon points="531.20,564.90 534.40,563.60 534.40,566.20" fill="#111"/><rect x="81" y="933" width="753" height="20" fill="#bebebe"/><rect x="81" y="976" width="753" height="23" fill="#ebebeb"/><rect x="81" y="1022" width="753" height="23" fill="#ebebeb"/><rect x="81" y="1068" width="753" height="23" fill="#ebebeb"/><rect x="81" y="1114" width="753" height="23" fill="#ebebeb"/><rect x="81" y="1160" width="753" height="23" fill="#ebebeb"/><rect x="81" y="974.7" width="753" height="1.6" fill="#c6c6c6"/><rect x="81" y="997.7" width="753" height="1.6" fill="#c6c6c6"/><rect x="81" y="1020.7" width="753" height="1.6" fill="#c6c6c6"/><rect x="81" y="1043.7" width="753" height="1.6" fill="#c6c6c6"/><rect x="81" y="1066.7" width="753" height="1.6" fill="#c6c6c6"/><rect x="81" y="1089.7" width="753" height="1.6" fill="#c6c6c6"/><rect x="81" y="1112.7" width="753" height="1.6" fill="#c6c6c6"/><rect x="81" y="1135.7" width="753" height="1.6" fill="#c6c6c6"/><rect x="81" y="1158.7" width="753" height="1.6" fill="#c6c6c6"/><rect x="81" y="1181.7" width="753" height="1.6" fill="#c6c6c6"/><text transform="translate(117.50,947.90) scale(0.948,1)" text-anchor="middle" font-size="14.2" font-weight="bold" fill="#262626">MODEL</text><text transform="translate(160.00,947.90) scale(0.900,1)" text-anchor="middle" font-size="14.2" font-weight="bold" fill="#262626" stroke="#262626" stroke-width="0.3">A1</text><text transform="translate(184.00,947.90) scale(0.900,1)" text-anchor="middle" font-size="14.2" font-weight="bold" fill="#262626" stroke="#262626" stroke-width="0.3">A2</text><text transform="translate(210.00,947.90) scale(0.900,1)" text-anchor="middle" font-size="14.2" font-weight="bold" fill="#262626" stroke="#262626" stroke-width="0.3">B</text><text transform="translate(238.00,947.90) scale(0.900,1)" text-anchor="middle" font-size="14.2" font-weight="bold" fill="#262626" stroke="#262626" stroke-width="0.3">C1</text><text transform="translate(264.00,947.90) scale(0.900,1)" text-anchor="middle" font-size="14.2" font-weight="bold" fill="#262626" stroke="#262626" stroke-width="0.3">C2</text><text transform="translate(287.00,947.90) scale(0.900,1)" text-anchor="middle" font-size="14.2" font-weight="bold" fill="#262626" stroke="#262626" stroke-width="0.3">C3</text><text transform="translate(314.50,947.90) scale(0.900,1)" text-anchor="middle" font-size="14.2" font-weight="bold" fill="#262626" stroke="#262626" stroke-width="0.3">ΦD</text><text transform="translate(346.70,947.90) scale(0.900,1)" text-anchor="middle" font-size="14.2" font-weight="bold" fill="#262626" stroke="#262626" stroke-width="0.3">E</text><text transform="translate(378.00,947.90) scale(0.900,1)" text-anchor="middle" font-size="14.2" font-weight="bold" fill="#262626" stroke="#262626" stroke-width="0.3">F</text><text transform="translate(405.60,947.90) scale(0.900,1)" text-anchor="middle" font-size="14.2" font-weight="bold" fill="#262626" stroke="#262626" stroke-width="0.3">G1</text><text transform="translate(428.80,947.90) scale(0.900,1)" text-anchor="middle" font-size="14.2" font-weight="bold" fill="#262626" stroke="#262626" stroke-width="0.3">G2</text><text transform="translate(452.40,947.90) scale(0.900,1)" text-anchor="middle" font-size="14.2" font-weight="bold" fill="#262626" stroke="#262626" stroke-width="0.3">G3</text><text transform="translate(473.20,947.90) scale(0.900,1)" text-anchor="middle" font-size="14.2" font-weight="bold" fill="#262626" stroke="#262626" stroke-width="0.3">H</text><text transform="translate(500.00,947.90) scale(0.900,1)" text-anchor="middle" font-size="14.2" font-weight="bold" fill="#262626" stroke="#262626" stroke-width="0.3">ΦI</text><text transform="translate(527.60,947.90) scale(0.900,1)" text-anchor="middle" font-size="14.2" font-weight="bold" fill="#262626" stroke="#262626" stroke-width="0.3">J</text><text transform="translate(556.00,947.90) scale(0.900,1)" text-anchor="middle" font-size="14.2" font-weight="bold" fill="#262626" stroke="#262626" stroke-width="0.3">J1</text><text transform="translate(582.50,947.90) scale(0.900,1)" text-anchor="middle" font-size="14.2" font-weight="bold" fill="#262626" stroke="#262626" stroke-width="0.3">K</text><text transform="translate(626.30,947.90) scale(0.900,1)" text-anchor="middle" font-size="14.2" font-weight="bold" fill="#262626" stroke="#262626" stroke-width="0.3">L</text><text transform="translate(670.00,947.90) scale(0.900,1)" text-anchor="middle" font-size="14.2" font-weight="bold" fill="#262626" stroke="#262626" stroke-width="0.3">M</text><text transform="translate(698.30,947.90) scale(0.900,1)" text-anchor="middle" font-size="14.2" font-weight="bold" fill="#262626" stroke="#262626" stroke-width="0.3">N</text><text transform="translate(726.00,947.80) scale(0.569,1)" text-anchor="middle" font-size="13.5" font-weight="bold" fill="#262626">O-Ring</text><text transform="translate(751.00,947.90) scale(0.900,1)" text-anchor="middle" font-size="14.2" font-weight="bold" fill="#262626" stroke="#262626" stroke-width="0.3">α</text><text transform="translate(777.80,947.90) scale(0.900,1)" text-anchor="middle" font-size="14.2" font-weight="bold" fill="#262626" stroke="#262626" stroke-width="0.3">T</text><text transform="translate(809.60,947.90) scale(0.900,1)" text-anchor="middle" font-size="14.2" font-weight="bold" fill="#262626" stroke="#262626" stroke-width="0.3">Q</text><text transform="translate(86.00,969.40) scale(0.717,1)" text-anchor="start" font-size="13" fill="#262626" stroke="#262626" stroke-width="0.25">CHLC-FAM25</text><text transform="translate(158.80,969.40) scale(0.860,1)" text-anchor="middle" font-size="13" fill="#262626" stroke="#262626" stroke-width="0.25">49</text><text transform="translate(183.00,969.40) scale(0.860,1)" text-anchor="middle" font-size="13" fill="#262626" stroke="#262626" stroke-width="0.25">122</text><text transform="translate(210.30,969.40) scale(0.860,1)" text-anchor="middle" font-size="13" fill="#262626" stroke="#262626" stroke-width="0.25">54</text><rect x="227.58" y="963.80" width="5.0" height="5.0" fill="none" stroke="#262626" stroke-width="0.9"/><text transform="translate(233.88,969.40) scale(0.860,1)" text-anchor="start" font-size="13" fill="#262626" stroke="#262626" stroke-width="0.25">19</text><text transform="translate(262.30,969.40) scale(0.860,1)" text-anchor="middle" font-size="13" fill="#262626" stroke="#262626" stroke-width="0.25">11</text><text transform="translate(287.00,969.40) scale(0.860,1)" text-anchor="middle" font-size="13" fill="#262626" stroke="#262626" stroke-width="0.25">9</text><text transform="translate(314.70,969.40) scale(0.860,1)" text-anchor="middle" font-size="13" fill="#262626" stroke="#262626" stroke-width="0.25">Φ8</text><text transform="translate(347.80,969.40) scale(0.860,1)" text-anchor="middle" font-size="13" fill="#262626" stroke="#262626" stroke-width="0.25">25</text><text transform="translate(378.00,969.40) scale(0.860,1)" text-anchor="middle" font-size="13" fill="#262626" stroke="#262626" stroke-width="0.25">64</text><text transform="translate(404.80,969.40) scale(0.860,1)" text-anchor="middle" font-size="13" fill="#262626" stroke="#262626" stroke-width="0.25">55</text><text transform="translate(428.50,969.40) scale(0.860,1)" text-anchor="middle" font-size="13" fill="#262626" stroke="#262626" stroke-width="0.25">22</text><text transform="translate(452.40,969.40) scale(0.860,1)" text-anchor="middle" font-size="13" fill="#262626" stroke="#262626" stroke-width="0.25">24</text><text transform="translate(473.00,969.40) scale(0.860,1)" text-anchor="middle" font-size="13" fill="#262626" stroke="#262626" stroke-width="0.25">3</text><text transform="translate(498.70,969.40) scale(0.860,1)" text-anchor="middle" font-size="13" fill="#262626" stroke="#262626" stroke-width="0.25">Φ45</text><text transform="translate(527.60,969.40) scale(0.860,1)" text-anchor="middle" font-size="13" fill="#262626" stroke="#262626" stroke-width="0.25">55</text><text transform="translate(555.60,969.40) scale(0.860,1)" text-anchor="middle" font-size="13" fill="#262626" stroke="#262626" stroke-width="0.25">64</text><text transform="translate(583.00,969.40) scale(0.860,1)" text-anchor="middle" font-size="13" fill="#262626" stroke="#262626" stroke-width="0.25">42</text><text transform="translate(626.90,963.70) scale(0.850,1)" text-anchor="middle" font-size="10.6" fill="#262626">Φ6.8-Φ10.5</text><text transform="translate(626.90,973.50) scale(0.930,1)" text-anchor="middle" font-size="10.6" fill="#262626">×6.5D</text><text transform="translate(670.50,969.40) scale(0.860,1)" text-anchor="middle" font-size="13" fill="#262626" stroke="#262626" stroke-width="0.25">20</text><text transform="translate(698.30,969.40) scale(0.860,1)" text-anchor="middle" font-size="13" fill="#262626" stroke="#262626" stroke-width="0.25">28</text><text transform="translate(726.00,969.40) scale(0.860,1)" text-anchor="middle" font-size="13" fill="#262626" stroke="#262626" stroke-width="0.25">P6</text><text transform="translate(751.00,969.40) scale(0.860,1)" text-anchor="middle" font-size="13" fill="#262626" stroke="#262626" stroke-width="0.25">61°</text><text transform="translate(777.80,969.40) scale(0.860,1)" text-anchor="middle" font-size="13" fill="#262626" stroke="#262626" stroke-width="0.25">4</text><text transform="translate(810.80,969.40) scale(0.860,1)" text-anchor="middle" font-size="13" fill="#262626" stroke="#262626" stroke-width="0.25">Φ18</text><text transform="translate(86.00,992.40) scale(0.717,1)" text-anchor="start" font-size="13" fill="#262626" stroke="#262626" stroke-width="0.25">CHLC-FAM32</text><text transform="translate(158.80,992.40) scale(0.860,1)" text-anchor="middle" font-size="13" fill="#262626" stroke="#262626" stroke-width="0.25">52</text><text transform="translate(183.00,992.40) scale(0.860,1)" text-anchor="middle" font-size="13" fill="#262626" stroke="#262626" stroke-width="0.25">131</text><text transform="translate(210.30,992.40) scale(0.860,1)" text-anchor="middle" font-size="13" fill="#262626" stroke="#262626" stroke-width="0.25">60</text><rect x="227.58" y="986.80" width="5.0" height="5.0" fill="none" stroke="#262626" stroke-width="0.9"/><text transform="translate(233.88,992.40) scale(0.860,1)" text-anchor="start" font-size="13" fill="#262626" stroke="#262626" stroke-width="0.25">19</text><text transform="translate(262.30,992.40) scale(0.860,1)" text-anchor="middle" font-size="13" fill="#262626" stroke="#262626" stroke-width="0.25">11</text><text transform="translate(287.00,992.40) scale(0.860,1)" text-anchor="middle" font-size="13" fill="#262626" stroke="#262626" stroke-width="0.25">9</text><text transform="translate(314.70,992.40) scale(0.860,1)" text-anchor="middle" font-size="13" fill="#262626" stroke="#262626" stroke-width="0.25">Φ8</text><text transform="translate(347.80,992.40) scale(0.860,1)" text-anchor="middle" font-size="13" fill="#262626" stroke="#262626" stroke-width="0.25">25</text><text transform="translate(378.00,992.40) scale(0.860,1)" text-anchor="middle" font-size="13" fill="#262626" stroke="#262626" stroke-width="0.25">64</text><text transform="translate(404.80,992.40) scale(0.860,1)" text-anchor="middle" font-size="13" fill="#262626" stroke="#262626" stroke-width="0.25">55</text><text transform="translate(428.50,992.40) scale(0.860,1)" text-anchor="middle" font-size="13" fill="#262626" stroke="#262626" stroke-width="0.25">22</text><text transform="translate(452.40,992.40) scale(0.860,1)" text-anchor="middle" font-size="13" fill="#262626" stroke="#262626" stroke-width="0.25">24</text><text transform="translate(473.00,992.40) scale(0.860,1)" text-anchor="middle" font-size="13" fill="#262626" stroke="#262626" stroke-width="0.25">3</text><text transform="translate(498.70,992.40) scale(0.860,1)" text-anchor="middle" font-size="13" fill="#262626" stroke="#262626" stroke-width="0.25">Φ50</text><text transform="translate(527.60,992.40) scale(0.860,1)" text-anchor="middle" font-size="13" fill="#262626" stroke="#262626" stroke-width="0.25">57</text><text transform="translate(555.60,992.40) scale(0.860,1)" text-anchor="middle" font-size="13" fill="#262626" stroke="#262626" stroke-width="0.25">65.5</text><text transform="translate(583.00,992.40) scale(0.860,1)" text-anchor="middle" font-size="13" fill="#262626" stroke="#262626" stroke-width="0.25">44</text><text transform="translate(626.90,986.70) scale(0.850,1)" text-anchor="middle" font-size="10.6" fill="#262626">Φ6.8-Φ10.5</text><text transform="translate(626.90,996.50) scale(0.930,1)" text-anchor="middle" font-size="10.6" fill="#262626">×6.5D</text><text transform="translate(670.50,992.40) scale(0.860,1)" text-anchor="middle" font-size="13" fill="#262626" stroke="#262626" stroke-width="0.25">22</text><text transform="translate(698.30,992.40) scale(0.860,1)" text-anchor="middle" font-size="13" fill="#262626" stroke="#262626" stroke-width="0.25">29</text><text transform="translate(726.00,992.40) scale(0.860,1)" text-anchor="middle" font-size="13" fill="#262626" stroke="#262626" stroke-width="0.25">P6</text><text transform="translate(751.00,992.40) scale(0.860,1)" text-anchor="middle" font-size="13" fill="#262626" stroke="#262626" stroke-width="0.25">61°</text><text transform="translate(777.80,992.40) scale(0.860,1)" text-anchor="middle" font-size="13" fill="#262626" stroke="#262626" stroke-width="0.25">5</text><text transform="translate(810.80,992.40) scale(0.860,1)" text-anchor="middle" font-size="13" fill="#262626" stroke="#262626" stroke-width="0.25">Φ20</text><text transform="translate(86.00,1015.40) scale(0.717,1)" text-anchor="start" font-size="13" fill="#262626" stroke="#262626" stroke-width="0.25">CHLC-FAM40</text><text transform="translate(158.80,1015.40) scale(0.860,1)" text-anchor="middle" font-size="13" fill="#262626" stroke="#262626" stroke-width="0.25">57</text><text transform="translate(183.00,1015.40) scale(0.860,1)" text-anchor="middle" font-size="13" fill="#262626" stroke="#262626" stroke-width="0.25">144</text><text transform="translate(210.30,1015.40) scale(0.860,1)" text-anchor="middle" font-size="13" fill="#262626" stroke="#262626" stroke-width="0.25">65</text><rect x="227.58" y="1009.80" width="5.0" height="5.0" fill="none" stroke="#262626" stroke-width="0.9"/><text transform="translate(233.88,1015.40) scale(0.860,1)" text-anchor="start" font-size="13" fill="#262626" stroke="#262626" stroke-width="0.25">22</text><text transform="translate(262.30,1015.40) scale(0.860,1)" text-anchor="middle" font-size="13" fill="#262626" stroke="#262626" stroke-width="0.25">13</text><text transform="translate(287.00,1015.40) scale(0.860,1)" text-anchor="middle" font-size="13" fill="#262626" stroke="#262626" stroke-width="0.25">10</text><text transform="translate(314.70,1015.40) scale(0.860,1)" text-anchor="middle" font-size="13" fill="#262626" stroke="#262626" stroke-width="0.25">Φ10</text><text transform="translate(347.80,1015.40) scale(0.860,1)" text-anchor="middle" font-size="13" fill="#262626" stroke="#262626" stroke-width="0.25">30</text><text transform="translate(378.00,1015.40) scale(0.860,1)" text-anchor="middle" font-size="13" fill="#262626" stroke="#262626" stroke-width="0.25">77</text><text transform="translate(404.80,1015.40) scale(0.860,1)" text-anchor="middle" font-size="13" fill="#262626" stroke="#262626" stroke-width="0.25">66</text><text transform="translate(428.50,1015.40) scale(0.860,1)" text-anchor="middle" font-size="13" fill="#262626" stroke="#262626" stroke-width="0.25">26</text><text transform="translate(452.40,1015.40) scale(0.860,1)" text-anchor="middle" font-size="13" fill="#262626" stroke="#262626" stroke-width="0.25">29</text><text transform="translate(473.00,1015.40) scale(0.860,1)" text-anchor="middle" font-size="13" fill="#262626" stroke="#262626" stroke-width="0.25">4</text><text transform="translate(498.70,1015.40) scale(0.860,1)" text-anchor="middle" font-size="13" fill="#262626" stroke="#262626" stroke-width="0.25">Φ58</text><text transform="translate(527.60,1015.40) scale(0.860,1)" text-anchor="middle" font-size="13" fill="#262626" stroke="#262626" stroke-width="0.25">69</text><text transform="translate(555.60,1015.40) scale(0.860,1)" text-anchor="middle" font-size="13" fill="#262626" stroke="#262626" stroke-width="0.25">79</text><text transform="translate(583.00,1015.40) scale(0.860,1)" text-anchor="middle" font-size="13" fill="#262626" stroke="#262626" stroke-width="0.25">52</text><text transform="translate(626.90,1009.70) scale(0.850,1)" text-anchor="middle" font-size="10.6" fill="#262626">Φ9-Φ13.5</text><text transform="translate(626.90,1019.50) scale(0.930,1)" text-anchor="middle" font-size="10.6" fill="#262626">×9D</text><text transform="translate(670.50,1015.40) scale(0.860,1)" text-anchor="middle" font-size="13" fill="#262626" stroke="#262626" stroke-width="0.25">25</text><text transform="translate(698.30,1015.40) scale(0.860,1)" text-anchor="middle" font-size="13" fill="#262626" stroke="#262626" stroke-width="0.25">34.5</text><text transform="translate(726.00,1015.40) scale(0.860,1)" text-anchor="middle" font-size="13" fill="#262626" stroke="#262626" stroke-width="0.25">P9</text><text transform="translate(751.00,1015.40) scale(0.860,1)" text-anchor="middle" font-size="13" fill="#262626" stroke="#262626" stroke-width="0.25">61°</text><text transform="translate(777.80,1015.40) scale(0.860,1)" text-anchor="middle" font-size="13" fill="#262626" stroke="#262626" stroke-width="0.25">5.5</text><text transform="translate(810.80,1015.40) scale(0.860,1)" text-anchor="middle" font-size="13" fill="#262626" stroke="#262626" stroke-width="0.25">Φ22.4</text><text transform="translate(86.00,1038.40) scale(0.717,1)" text-anchor="start" font-size="13" fill="#262626" stroke="#262626" stroke-width="0.25">CHLC-FAM50</text><text transform="translate(158.80,1038.40) scale(0.860,1)" text-anchor="middle" font-size="13" fill="#262626" stroke="#262626" stroke-width="0.25">67</text><text transform="translate(183.00,1038.40) scale(0.860,1)" text-anchor="middle" font-size="13" fill="#262626" stroke="#262626" stroke-width="0.25">162</text><text transform="translate(210.30,1038.40) scale(0.860,1)" text-anchor="middle" font-size="13" fill="#262626" stroke="#262626" stroke-width="0.25">70</text><rect x="227.58" y="1032.80" width="5.0" height="5.0" fill="none" stroke="#262626" stroke-width="0.9"/><text transform="translate(233.88,1038.40) scale(0.860,1)" text-anchor="start" font-size="13" fill="#262626" stroke="#262626" stroke-width="0.25">25</text><text transform="translate(262.30,1038.40) scale(0.860,1)" text-anchor="middle" font-size="13" fill="#262626" stroke="#262626" stroke-width="0.25">15</text><text transform="translate(287.00,1038.40) scale(0.860,1)" text-anchor="middle" font-size="13" fill="#262626" stroke="#262626" stroke-width="0.25">11</text><text transform="translate(314.70,1038.40) scale(0.860,1)" text-anchor="middle" font-size="13" fill="#262626" stroke="#262626" stroke-width="0.25">Φ12</text><text transform="translate(347.80,1038.40) scale(0.860,1)" text-anchor="middle" font-size="13" fill="#262626" stroke="#262626" stroke-width="0.25">35.5</text><text transform="translate(378.00,1038.40) scale(0.860,1)" text-anchor="middle" font-size="13" fill="#262626" stroke="#262626" stroke-width="0.25">90</text><text transform="translate(404.80,1038.40) scale(0.860,1)" text-anchor="middle" font-size="13" fill="#262626" stroke="#262626" stroke-width="0.25">77</text><text transform="translate(428.50,1038.40) scale(0.860,1)" text-anchor="middle" font-size="13" fill="#262626" stroke="#262626" stroke-width="0.25">30</text><text transform="translate(452.40,1038.40) scale(0.860,1)" text-anchor="middle" font-size="13" fill="#262626" stroke="#262626" stroke-width="0.25">33</text><text transform="translate(473.00,1038.40) scale(0.860,1)" text-anchor="middle" font-size="13" fill="#262626" stroke="#262626" stroke-width="0.25">4</text><text transform="translate(498.70,1038.40) scale(0.860,1)" text-anchor="middle" font-size="13" fill="#262626" stroke="#262626" stroke-width="0.25">Φ68</text><text transform="translate(527.60,1038.40) scale(0.860,1)" text-anchor="middle" font-size="13" fill="#262626" stroke="#262626" stroke-width="0.25">75</text><text transform="translate(555.60,1038.40) scale(0.860,1)" text-anchor="middle" font-size="13" fill="#262626" stroke="#262626" stroke-width="0.25">87</text><text transform="translate(583.00,1038.40) scale(0.860,1)" text-anchor="middle" font-size="13" fill="#262626" stroke="#262626" stroke-width="0.25">58</text><text transform="translate(626.90,1032.70) scale(0.850,1)" text-anchor="middle" font-size="10.6" fill="#262626">Φ9-Φ13.5</text><text transform="translate(626.90,1042.50) scale(0.930,1)" text-anchor="middle" font-size="10.6" fill="#262626">×9D</text><text transform="translate(670.50,1038.40) scale(0.860,1)" text-anchor="middle" font-size="13" fill="#262626" stroke="#262626" stroke-width="0.25">30</text><text transform="translate(698.30,1038.40) scale(0.860,1)" text-anchor="middle" font-size="13" fill="#262626" stroke="#262626" stroke-width="0.25">39</text><text transform="translate(726.00,1038.40) scale(0.860,1)" text-anchor="middle" font-size="13" fill="#262626" stroke="#262626" stroke-width="0.25">P9</text><text transform="translate(751.00,1038.40) scale(0.860,1)" text-anchor="middle" font-size="13" fill="#262626" stroke="#262626" stroke-width="0.25">61°</text><text transform="translate(777.80,1038.40) scale(0.860,1)" text-anchor="middle" font-size="13" fill="#262626" stroke="#262626" stroke-width="0.25">7.5</text><text transform="translate(810.80,1038.40) scale(0.860,1)" text-anchor="middle" font-size="13" fill="#262626" stroke="#262626" stroke-width="0.25">Φ28</text><text transform="translate(86.00,1061.40) scale(0.717,1)" text-anchor="start" font-size="13" fill="#262626" stroke="#262626" stroke-width="0.25">CHLC-FAM63</text><text transform="translate(158.80,1061.40) scale(0.860,1)" text-anchor="middle" font-size="13" fill="#262626" stroke="#262626" stroke-width="0.25">74</text><text transform="translate(183.00,1061.40) scale(0.860,1)" text-anchor="middle" font-size="13" fill="#262626" stroke="#262626" stroke-width="0.25">187</text><text transform="translate(210.30,1061.40) scale(0.860,1)" text-anchor="middle" font-size="13" fill="#262626" stroke="#262626" stroke-width="0.25">81</text><rect x="227.58" y="1055.80" width="5.0" height="5.0" fill="none" stroke="#262626" stroke-width="0.9"/><text transform="translate(233.88,1061.40) scale(0.860,1)" text-anchor="start" font-size="13" fill="#262626" stroke="#262626" stroke-width="0.25">32</text><text transform="translate(262.30,1061.40) scale(0.860,1)" text-anchor="middle" font-size="13" fill="#262626" stroke="#262626" stroke-width="0.25">19</text><text transform="translate(287.00,1061.40) scale(0.860,1)" text-anchor="middle" font-size="13" fill="#262626" stroke="#262626" stroke-width="0.25">15</text><text transform="translate(314.70,1061.40) scale(0.860,1)" text-anchor="middle" font-size="13" fill="#262626" stroke="#262626" stroke-width="0.25">Φ15</text><text transform="translate(347.80,1061.40) scale(0.860,1)" text-anchor="middle" font-size="13" fill="#262626" stroke="#262626" stroke-width="0.25">43</text><text transform="translate(378.00,1061.40) scale(0.860,1)" text-anchor="middle" font-size="13" fill="#262626" stroke="#262626" stroke-width="0.25">110</text><text transform="translate(404.80,1061.40) scale(0.860,1)" text-anchor="middle" font-size="13" fill="#262626" stroke="#262626" stroke-width="0.25">94</text><text transform="translate(428.50,1061.40) scale(0.860,1)" text-anchor="middle" font-size="13" fill="#262626" stroke="#262626" stroke-width="0.25">36</text><text transform="translate(452.40,1061.40) scale(0.860,1)" text-anchor="middle" font-size="13" fill="#262626" stroke="#262626" stroke-width="0.25">39</text><text transform="translate(473.00,1061.40) scale(0.860,1)" text-anchor="middle" font-size="13" fill="#262626" stroke="#262626" stroke-width="0.25">4</text><text transform="translate(498.70,1061.40) scale(0.860,1)" text-anchor="middle" font-size="13" fill="#262626" stroke="#262626" stroke-width="0.25">Φ82</text><text transform="translate(527.60,1061.40) scale(0.860,1)" text-anchor="middle" font-size="13" fill="#262626" stroke="#262626" stroke-width="0.25">98</text><text transform="translate(555.60,1061.40) scale(0.860,1)" text-anchor="middle" font-size="13" fill="#262626" stroke="#262626" stroke-width="0.25">114</text><text transform="translate(583.00,1061.40) scale(0.860,1)" text-anchor="middle" font-size="13" fill="#262626" stroke="#262626" stroke-width="0.25">75</text><text transform="translate(626.90,1055.70) scale(0.850,1)" text-anchor="middle" font-size="10.6" fill="#262626">Φ11-Φ18</text><text transform="translate(626.90,1065.50) scale(0.930,1)" text-anchor="middle" font-size="10.6" fill="#262626">×11D</text><text transform="translate(670.50,1061.40) scale(0.860,1)" text-anchor="middle" font-size="13" fill="#262626" stroke="#262626" stroke-width="0.25">40</text><text transform="translate(698.30,1061.40) scale(0.860,1)" text-anchor="middle" font-size="13" fill="#262626" stroke="#262626" stroke-width="0.25">49.5</text><text transform="translate(726.00,1061.40) scale(0.860,1)" text-anchor="middle" font-size="13" fill="#262626" stroke="#262626" stroke-width="0.25">P9</text><text transform="translate(751.00,1061.40) scale(0.860,1)" text-anchor="middle" font-size="13" fill="#262626" stroke="#262626" stroke-width="0.25">66°</text><text transform="translate(777.80,1061.40) scale(0.860,1)" text-anchor="middle" font-size="13" fill="#262626" stroke="#262626" stroke-width="0.25">2</text><text transform="translate(810.80,1061.40) scale(0.860,1)" text-anchor="middle" font-size="13" fill="#262626" stroke="#262626" stroke-width="0.25">Φ35.5</text><text transform="translate(86.00,1084.40) scale(0.715,1)" text-anchor="start" font-size="13" fill="#262626" stroke="#262626" stroke-width="0.25">CHLC-FAMT25</text><text transform="translate(158.80,1084.40) scale(0.860,1)" text-anchor="middle" font-size="13" fill="#262626" stroke="#262626" stroke-width="0.25">49</text><text transform="translate(183.00,1084.40) scale(0.860,1)" text-anchor="middle" font-size="13" fill="#262626" stroke="#262626" stroke-width="0.25">122</text><text transform="translate(210.30,1084.40) scale(0.860,1)" text-anchor="middle" font-size="13" fill="#262626" stroke="#262626" stroke-width="0.25">54</text><rect x="227.58" y="1078.80" width="5.0" height="5.0" fill="none" stroke="#262626" stroke-width="0.9"/><text transform="translate(233.88,1084.40) scale(0.860,1)" text-anchor="start" font-size="13" fill="#262626" stroke="#262626" stroke-width="0.25">19</text><text transform="translate(262.30,1084.40) scale(0.860,1)" text-anchor="middle" font-size="13" fill="#262626" stroke="#262626" stroke-width="0.25">11</text><text transform="translate(287.00,1084.40) scale(0.860,1)" text-anchor="middle" font-size="13" fill="#262626" stroke="#262626" stroke-width="0.25">9</text><text transform="translate(314.70,1084.40) scale(0.860,1)" text-anchor="middle" font-size="13" fill="#262626" stroke="#262626" stroke-width="0.25">Φ8</text><text transform="translate(347.80,1084.40) scale(0.860,1)" text-anchor="middle" font-size="13" fill="#262626" stroke="#262626" stroke-width="0.25">25</text><text transform="translate(378.00,1084.40) scale(0.860,1)" text-anchor="middle" font-size="13" fill="#262626" stroke="#262626" stroke-width="0.25">64</text><text transform="translate(404.80,1084.40) scale(0.860,1)" text-anchor="middle" font-size="13" fill="#262626" stroke="#262626" stroke-width="0.25">55</text><text transform="translate(428.50,1084.40) scale(0.860,1)" text-anchor="middle" font-size="13" fill="#262626" stroke="#262626" stroke-width="0.25">22</text><text transform="translate(452.40,1084.40) scale(0.860,1)" text-anchor="middle" font-size="13" fill="#262626" stroke="#262626" stroke-width="0.25">24</text><text transform="translate(473.00,1084.40) scale(0.860,1)" text-anchor="middle" font-size="13" fill="#262626" stroke="#262626" stroke-width="0.25">3</text><text transform="translate(498.70,1084.40) scale(0.860,1)" text-anchor="middle" font-size="13" fill="#262626" stroke="#262626" stroke-width="0.25">Φ45</text><text transform="translate(527.60,1084.40) scale(0.860,1)" text-anchor="middle" font-size="13" fill="#262626" stroke="#262626" stroke-width="0.25">55</text><text transform="translate(555.60,1084.40) scale(0.860,1)" text-anchor="middle" font-size="13" fill="#262626" stroke="#262626" stroke-width="0.25">64</text><text transform="translate(583.00,1084.40) scale(0.860,1)" text-anchor="middle" font-size="13" fill="#262626" stroke="#262626" stroke-width="0.25">42</text><text transform="translate(626.90,1078.70) scale(0.850,1)" text-anchor="middle" font-size="10.6" fill="#262626">Φ6.8-Φ10.5</text><text transform="translate(626.90,1088.50) scale(0.930,1)" text-anchor="middle" font-size="10.6" fill="#262626">×6.5D</text><text transform="translate(670.50,1084.40) scale(0.860,1)" text-anchor="middle" font-size="13" fill="#262626" stroke="#262626" stroke-width="0.25">20</text><text transform="translate(698.30,1084.40) scale(0.860,1)" text-anchor="middle" font-size="13" fill="#262626" stroke="#262626" stroke-width="0.25">28</text><text transform="translate(726.00,1084.40) scale(0.860,1)" text-anchor="middle" font-size="13" fill="#262626" stroke="#262626" stroke-width="0.25">P6</text><text transform="translate(751.00,1084.40) scale(0.860,1)" text-anchor="middle" font-size="13" fill="#262626" stroke="#262626" stroke-width="0.25">61°</text><text transform="translate(777.80,1084.40) scale(0.860,1)" text-anchor="middle" font-size="13" fill="#262626" stroke="#262626" stroke-width="0.25">4</text><text transform="translate(810.80,1084.40) scale(0.860,1)" text-anchor="middle" font-size="13" fill="#262626" stroke="#262626" stroke-width="0.25">Φ18</text><text transform="translate(86.00,1107.40) scale(0.715,1)" text-anchor="start" font-size="13" fill="#262626" stroke="#262626" stroke-width="0.25">CHLC-FAMT32</text><text transform="translate(158.80,1107.40) scale(0.860,1)" text-anchor="middle" font-size="13" fill="#262626" stroke="#262626" stroke-width="0.25">52</text><text transform="translate(183.00,1107.40) scale(0.860,1)" text-anchor="middle" font-size="13" fill="#262626" stroke="#262626" stroke-width="0.25">131</text><text transform="translate(210.30,1107.40) scale(0.860,1)" text-anchor="middle" font-size="13" fill="#262626" stroke="#262626" stroke-width="0.25">60</text><rect x="227.58" y="1101.80" width="5.0" height="5.0" fill="none" stroke="#262626" stroke-width="0.9"/><text transform="translate(233.88,1107.40) scale(0.860,1)" text-anchor="start" font-size="13" fill="#262626" stroke="#262626" stroke-width="0.25">19</text><text transform="translate(262.30,1107.40) scale(0.860,1)" text-anchor="middle" font-size="13" fill="#262626" stroke="#262626" stroke-width="0.25">11</text><text transform="translate(287.00,1107.40) scale(0.860,1)" text-anchor="middle" font-size="13" fill="#262626" stroke="#262626" stroke-width="0.25">9</text><text transform="translate(314.70,1107.40) scale(0.860,1)" text-anchor="middle" font-size="13" fill="#262626" stroke="#262626" stroke-width="0.25">Φ8</text><text transform="translate(347.80,1107.40) scale(0.860,1)" text-anchor="middle" font-size="13" fill="#262626" stroke="#262626" stroke-width="0.25">25</text><text transform="translate(378.00,1107.40) scale(0.860,1)" text-anchor="middle" font-size="13" fill="#262626" stroke="#262626" stroke-width="0.25">64</text><text transform="translate(404.80,1107.40) scale(0.860,1)" text-anchor="middle" font-size="13" fill="#262626" stroke="#262626" stroke-width="0.25">55</text><text transform="translate(428.50,1107.40) scale(0.860,1)" text-anchor="middle" font-size="13" fill="#262626" stroke="#262626" stroke-width="0.25">22</text><text transform="translate(452.40,1107.40) scale(0.860,1)" text-anchor="middle" font-size="13" fill="#262626" stroke="#262626" stroke-width="0.25">24</text><text transform="translate(473.00,1107.40) scale(0.860,1)" text-anchor="middle" font-size="13" fill="#262626" stroke="#262626" stroke-width="0.25">3</text><text transform="translate(498.70,1107.40) scale(0.860,1)" text-anchor="middle" font-size="13" fill="#262626" stroke="#262626" stroke-width="0.25">Φ50</text><text transform="translate(527.60,1107.40) scale(0.860,1)" text-anchor="middle" font-size="13" fill="#262626" stroke="#262626" stroke-width="0.25">57</text><text transform="translate(555.60,1107.40) scale(0.860,1)" text-anchor="middle" font-size="13" fill="#262626" stroke="#262626" stroke-width="0.25">65.5</text><text transform="translate(583.00,1107.40) scale(0.860,1)" text-anchor="middle" font-size="13" fill="#262626" stroke="#262626" stroke-width="0.25">44</text><text transform="translate(626.90,1101.70) scale(0.850,1)" text-anchor="middle" font-size="10.6" fill="#262626">Φ6.8-Φ10.5</text><text transform="translate(626.90,1111.50) scale(0.930,1)" text-anchor="middle" font-size="10.6" fill="#262626">×6.5D</text><text transform="translate(670.50,1107.40) scale(0.860,1)" text-anchor="middle" font-size="13" fill="#262626" stroke="#262626" stroke-width="0.25">22</text><text transform="translate(698.30,1107.40) scale(0.860,1)" text-anchor="middle" font-size="13" fill="#262626" stroke="#262626" stroke-width="0.25">29</text><text transform="translate(726.00,1107.40) scale(0.860,1)" text-anchor="middle" font-size="13" fill="#262626" stroke="#262626" stroke-width="0.25">P6</text><text transform="translate(751.00,1107.40) scale(0.860,1)" text-anchor="middle" font-size="13" fill="#262626" stroke="#262626" stroke-width="0.25">61°</text><text transform="translate(777.80,1107.40) scale(0.860,1)" text-anchor="middle" font-size="13" fill="#262626" stroke="#262626" stroke-width="0.25">5</text><text transform="translate(810.80,1107.40) scale(0.860,1)" text-anchor="middle" font-size="13" fill="#262626" stroke="#262626" stroke-width="0.25">Φ20</text><text transform="translate(86.00,1130.40) scale(0.715,1)" text-anchor="start" font-size="13" fill="#262626" stroke="#262626" stroke-width="0.25">CHLC-FAMT40</text><text transform="translate(158.80,1130.40) scale(0.860,1)" text-anchor="middle" font-size="13" fill="#262626" stroke="#262626" stroke-width="0.25">57</text><text transform="translate(183.00,1130.40) scale(0.860,1)" text-anchor="middle" font-size="13" fill="#262626" stroke="#262626" stroke-width="0.25">144</text><text transform="translate(210.30,1130.40) scale(0.860,1)" text-anchor="middle" font-size="13" fill="#262626" stroke="#262626" stroke-width="0.25">65</text><rect x="227.58" y="1124.80" width="5.0" height="5.0" fill="none" stroke="#262626" stroke-width="0.9"/><text transform="translate(233.88,1130.40) scale(0.860,1)" text-anchor="start" font-size="13" fill="#262626" stroke="#262626" stroke-width="0.25">22</text><text transform="translate(262.30,1130.40) scale(0.860,1)" text-anchor="middle" font-size="13" fill="#262626" stroke="#262626" stroke-width="0.25">13</text><text transform="translate(287.00,1130.40) scale(0.860,1)" text-anchor="middle" font-size="13" fill="#262626" stroke="#262626" stroke-width="0.25">10</text><text transform="translate(314.70,1130.40) scale(0.860,1)" text-anchor="middle" font-size="13" fill="#262626" stroke="#262626" stroke-width="0.25">Φ10</text><text transform="translate(347.80,1130.40) scale(0.860,1)" text-anchor="middle" font-size="13" fill="#262626" stroke="#262626" stroke-width="0.25">30</text><text transform="translate(378.00,1130.40) scale(0.860,1)" text-anchor="middle" font-size="13" fill="#262626" stroke="#262626" stroke-width="0.25">77</text><text transform="translate(404.80,1130.40) scale(0.860,1)" text-anchor="middle" font-size="13" fill="#262626" stroke="#262626" stroke-width="0.25">66</text><text transform="translate(428.50,1130.40) scale(0.860,1)" text-anchor="middle" font-size="13" fill="#262626" stroke="#262626" stroke-width="0.25">26</text><text transform="translate(452.40,1130.40) scale(0.860,1)" text-anchor="middle" font-size="13" fill="#262626" stroke="#262626" stroke-width="0.25">29</text><text transform="translate(473.00,1130.40) scale(0.860,1)" text-anchor="middle" font-size="13" fill="#262626" stroke="#262626" stroke-width="0.25">4</text><text transform="translate(498.70,1130.40) scale(0.860,1)" text-anchor="middle" font-size="13" fill="#262626" stroke="#262626" stroke-width="0.25">Φ58</text><text transform="translate(527.60,1130.40) scale(0.860,1)" text-anchor="middle" font-size="13" fill="#262626" stroke="#262626" stroke-width="0.25">69</text><text transform="translate(555.60,1130.40) scale(0.860,1)" text-anchor="middle" font-size="13" fill="#262626" stroke="#262626" stroke-width="0.25">79</text><text transform="translate(583.00,1130.40) scale(0.860,1)" text-anchor="middle" font-size="13" fill="#262626" stroke="#262626" stroke-width="0.25">52</text><text transform="translate(626.90,1124.70) scale(0.850,1)" text-anchor="middle" font-size="10.6" fill="#262626">Φ9-Φ13.5</text><text transform="translate(626.90,1134.50) scale(0.930,1)" text-anchor="middle" font-size="10.6" fill="#262626">×9D</text><text transform="translate(670.50,1130.40) scale(0.860,1)" text-anchor="middle" font-size="13" fill="#262626" stroke="#262626" stroke-width="0.25">26</text><text transform="translate(698.30,1130.40) scale(0.860,1)" text-anchor="middle" font-size="13" fill="#262626" stroke="#262626" stroke-width="0.25">34.5</text><text transform="translate(726.00,1130.40) scale(0.860,1)" text-anchor="middle" font-size="13" fill="#262626" stroke="#262626" stroke-width="0.25">P9</text><text transform="translate(751.00,1130.40) scale(0.860,1)" text-anchor="middle" font-size="13" fill="#262626" stroke="#262626" stroke-width="0.25">61°</text><text transform="translate(777.80,1130.40) scale(0.860,1)" text-anchor="middle" font-size="13" fill="#262626" stroke="#262626" stroke-width="0.25">5.5</text><text transform="translate(810.80,1130.40) scale(0.860,1)" text-anchor="middle" font-size="13" fill="#262626" stroke="#262626" stroke-width="0.25">Φ22.4</text><text transform="translate(86.00,1153.40) scale(0.715,1)" text-anchor="start" font-size="13" fill="#262626" stroke="#262626" stroke-width="0.25">CHLC-FAMT50</text><text transform="translate(158.80,1153.40) scale(0.860,1)" text-anchor="middle" font-size="13" fill="#262626" stroke="#262626" stroke-width="0.25">67</text><text transform="translate(183.00,1153.40) scale(0.860,1)" text-anchor="middle" font-size="13" fill="#262626" stroke="#262626" stroke-width="0.25">162</text><text transform="translate(210.30,1153.40) scale(0.860,1)" text-anchor="middle" font-size="13" fill="#262626" stroke="#262626" stroke-width="0.25">70</text><rect x="227.58" y="1147.80" width="5.0" height="5.0" fill="none" stroke="#262626" stroke-width="0.9"/><text transform="translate(233.88,1153.40) scale(0.860,1)" text-anchor="start" font-size="13" fill="#262626" stroke="#262626" stroke-width="0.25">25</text><text transform="translate(262.30,1153.40) scale(0.860,1)" text-anchor="middle" font-size="13" fill="#262626" stroke="#262626" stroke-width="0.25">15</text><text transform="translate(287.00,1153.40) scale(0.860,1)" text-anchor="middle" font-size="13" fill="#262626" stroke="#262626" stroke-width="0.25">11</text><text transform="translate(314.70,1153.40) scale(0.860,1)" text-anchor="middle" font-size="13" fill="#262626" stroke="#262626" stroke-width="0.25">Φ12</text><text transform="translate(347.80,1153.40) scale(0.860,1)" text-anchor="middle" font-size="13" fill="#262626" stroke="#262626" stroke-width="0.25">35.5</text><text transform="translate(378.00,1153.40) scale(0.860,1)" text-anchor="middle" font-size="13" fill="#262626" stroke="#262626" stroke-width="0.25">90</text><text transform="translate(404.80,1153.40) scale(0.860,1)" text-anchor="middle" font-size="13" fill="#262626" stroke="#262626" stroke-width="0.25">77</text><text transform="translate(428.50,1153.40) scale(0.860,1)" text-anchor="middle" font-size="13" fill="#262626" stroke="#262626" stroke-width="0.25">30</text><text transform="translate(452.40,1153.40) scale(0.860,1)" text-anchor="middle" font-size="13" fill="#262626" stroke="#262626" stroke-width="0.25">33</text><text transform="translate(473.00,1153.40) scale(0.860,1)" text-anchor="middle" font-size="13" fill="#262626" stroke="#262626" stroke-width="0.25">4</text><text transform="translate(498.70,1153.40) scale(0.860,1)" text-anchor="middle" font-size="13" fill="#262626" stroke="#262626" stroke-width="0.25">Φ68</text><text transform="translate(527.60,1153.40) scale(0.860,1)" text-anchor="middle" font-size="13" fill="#262626" stroke="#262626" stroke-width="0.25">75</text><text transform="translate(555.60,1153.40) scale(0.860,1)" text-anchor="middle" font-size="13" fill="#262626" stroke="#262626" stroke-width="0.25">87</text><text transform="translate(583.00,1153.40) scale(0.860,1)" text-anchor="middle" font-size="13" fill="#262626" stroke="#262626" stroke-width="0.25">58</text><text transform="translate(626.90,1147.70) scale(0.850,1)" text-anchor="middle" font-size="10.6" fill="#262626">Φ9-Φ13.5</text><text transform="translate(626.90,1157.50) scale(0.930,1)" text-anchor="middle" font-size="10.6" fill="#262626">×9D</text><text transform="translate(670.50,1153.40) scale(0.860,1)" text-anchor="middle" font-size="13" fill="#262626" stroke="#262626" stroke-width="0.25">30</text><text transform="translate(698.30,1153.40) scale(0.860,1)" text-anchor="middle" font-size="13" fill="#262626" stroke="#262626" stroke-width="0.25">39</text><text transform="translate(726.00,1153.40) scale(0.860,1)" text-anchor="middle" font-size="13" fill="#262626" stroke="#262626" stroke-width="0.25">P9</text><text transform="translate(751.00,1153.40) scale(0.860,1)" text-anchor="middle" font-size="13" fill="#262626" stroke="#262626" stroke-width="0.25">61°</text><text transform="translate(777.80,1153.40) scale(0.860,1)" text-anchor="middle" font-size="13" fill="#262626" stroke="#262626" stroke-width="0.25">7.5</text><text transform="translate(810.80,1153.40) scale(0.860,1)" text-anchor="middle" font-size="13" fill="#262626" stroke="#262626" stroke-width="0.25">Φ28</text><text transform="translate(86.00,1176.40) scale(0.715,1)" text-anchor="start" font-size="13" fill="#262626" stroke="#262626" stroke-width="0.25">CHLC-FAMT63</text><text transform="translate(158.80,1176.40) scale(0.860,1)" text-anchor="middle" font-size="13" fill="#262626" stroke="#262626" stroke-width="0.25">74</text><text transform="translate(183.00,1176.40) scale(0.860,1)" text-anchor="middle" font-size="13" fill="#262626" stroke="#262626" stroke-width="0.25">187</text><text transform="translate(210.30,1176.40) scale(0.860,1)" text-anchor="middle" font-size="13" fill="#262626" stroke="#262626" stroke-width="0.25">81</text><rect x="227.58" y="1170.80" width="5.0" height="5.0" fill="none" stroke="#262626" stroke-width="0.9"/><text transform="translate(233.88,1176.40) scale(0.860,1)" text-anchor="start" font-size="13" fill="#262626" stroke="#262626" stroke-width="0.25">32</text><text transform="translate(262.30,1176.40) scale(0.860,1)" text-anchor="middle" font-size="13" fill="#262626" stroke="#262626" stroke-width="0.25">19</text><text transform="translate(287.00,1176.40) scale(0.860,1)" text-anchor="middle" font-size="13" fill="#262626" stroke="#262626" stroke-width="0.25">15</text><text transform="translate(314.70,1176.40) scale(0.860,1)" text-anchor="middle" font-size="13" fill="#262626" stroke="#262626" stroke-width="0.25">Φ15</text><text transform="translate(347.80,1176.40) scale(0.860,1)" text-anchor="middle" font-size="13" fill="#262626" stroke="#262626" stroke-width="0.25">43</text><text transform="translate(378.00,1176.40) scale(0.860,1)" text-anchor="middle" font-size="13" fill="#262626" stroke="#262626" stroke-width="0.25">110</text><text transform="translate(404.80,1176.40) scale(0.860,1)" text-anchor="middle" font-size="13" fill="#262626" stroke="#262626" stroke-width="0.25">94</text><text transform="translate(428.50,1176.40) scale(0.860,1)" text-anchor="middle" font-size="13" fill="#262626" stroke="#262626" stroke-width="0.25">36</text><text transform="translate(452.40,1176.40) scale(0.860,1)" text-anchor="middle" font-size="13" fill="#262626" stroke="#262626" stroke-width="0.25">39</text><text transform="translate(473.00,1176.40) scale(0.860,1)" text-anchor="middle" font-size="13" fill="#262626" stroke="#262626" stroke-width="0.25">4</text><text transform="translate(498.70,1176.40) scale(0.860,1)" text-anchor="middle" font-size="13" fill="#262626" stroke="#262626" stroke-width="0.25">Φ82</text><text transform="translate(527.60,1176.40) scale(0.860,1)" text-anchor="middle" font-size="13" fill="#262626" stroke="#262626" stroke-width="0.25">98</text><text transform="translate(555.60,1176.40) scale(0.860,1)" text-anchor="middle" font-size="13" fill="#262626" stroke="#262626" stroke-width="0.25">114</text><text transform="translate(583.00,1176.40) scale(0.860,1)" text-anchor="middle" font-size="13" fill="#262626" stroke="#262626" stroke-width="0.25">75</text><text transform="translate(626.90,1170.70) scale(0.850,1)" text-anchor="middle" font-size="10.6" fill="#262626">Φ11-Φ18</text><text transform="translate(626.90,1180.50) scale(0.930,1)" text-anchor="middle" font-size="10.6" fill="#262626">×11D</text><text transform="translate(670.50,1176.40) scale(0.860,1)" text-anchor="middle" font-size="13" fill="#262626" stroke="#262626" stroke-width="0.25">40</text><text transform="translate(698.30,1176.40) scale(0.860,1)" text-anchor="middle" font-size="13" fill="#262626" stroke="#262626" stroke-width="0.25">49.5</text><text transform="translate(726.00,1176.40) scale(0.860,1)" text-anchor="middle" font-size="13" fill="#262626" stroke="#262626" stroke-width="0.25">P9</text><text transform="translate(751.00,1176.40) scale(0.860,1)" text-anchor="middle" font-size="13" fill="#262626" stroke="#262626" stroke-width="0.25">66°</text><text transform="translate(777.80,1176.40) scale(0.860,1)" text-anchor="middle" font-size="13" fill="#262626" stroke="#262626" stroke-width="0.25">2</text><text transform="translate(810.80,1176.40) scale(0.860,1)" text-anchor="middle" font-size="13" fill="#262626" stroke="#262626" stroke-width="0.25">Φ35.5</text><text transform="translate(834.00,924.60) scale(0.955,1)" text-anchor="end" font-size="9" fill="#cc1f2d" stroke="#cc1f2d" stroke-width="0.2">Unit:mm</text><rect x="181" y="124.2" width="163.3" height="19.6" fill="#f9bdbd"/><rect x="580.5" y="124.1" width="175.6" height="19.8" fill="#f9bdbd"/><text x="193.6" y="138.4" font-size="11.8" font-weight="bold" fill="#222" stroke="#222" stroke-width="0.35" textLength="69.5" lengthAdjust="spacingAndGlyphs">法蘭型油路板</text><text transform="translate(270.30,138.40) scale(0.961,1)" text-anchor="start" font-size="12.2" font-weight="bold" fill="#222">CHLC-FAM</text><text x="595" y="138.4" font-size="11.8" font-weight="bold" fill="#222" stroke="#222" stroke-width="0.35" textLength="68.7" lengthAdjust="spacingAndGlyphs">法蘭型附調速</text><text transform="translate(671.70,138.40) scale(0.963,1)" text-anchor="start" font-size="12.2" font-weight="bold" fill="#222">CHLC -FAMT</text><circle cx="93.70" cy="734.40" r="6.00" stroke="#333" stroke-width="0.95" fill="none"/><text transform="translate(93.70,734.40)" x="0" y="3.40" text-anchor="middle" font-size="9.5" stroke="#222" stroke-width="0.2" fill="#222">A</text><text x="102.69999999999999" y="739.3" font-size="13" fill="#222" textLength="48.7" lengthAdjust="spacingAndGlyphs">夹持油孔</text><text transform="translate(155.60,738.90) scale(1.027,1)" text-anchor="start" font-size="13" fill="#222">Clamping port</text><circle cx="266.60" cy="734.40" r="6.00" stroke="#333" stroke-width="0.95" fill="none"/><text transform="translate(266.60,734.40)" x="0" y="3.40" text-anchor="middle" font-size="9.5" stroke="#222" stroke-width="0.2" fill="#222">B</text><text x="275.6" y="739.3" font-size="13" fill="#222" textLength="48.7" lengthAdjust="spacingAndGlyphs">放鬆油孔</text><text transform="translate(328.50,738.90) scale(1.028,1)" text-anchor="start" font-size="13" fill="#222">Unclamping port</text><text transform="translate(621.60,1235.60) scale(0.899,1)" text-anchor="start" font-size="12.5" fill="#333">PNEUMATIC &amp; HYDRAULIC CLAMPS</text><rect x="822.9" y="1226.3" width="0.9" height="10.6" fill="#555"/><text transform="translate(832.80,1235.60) scale(0.906,1)" text-anchor="start" font-size="12.5" font-weight="bold" fill="#e0161e">038</text>
</svg>
</body></html>
